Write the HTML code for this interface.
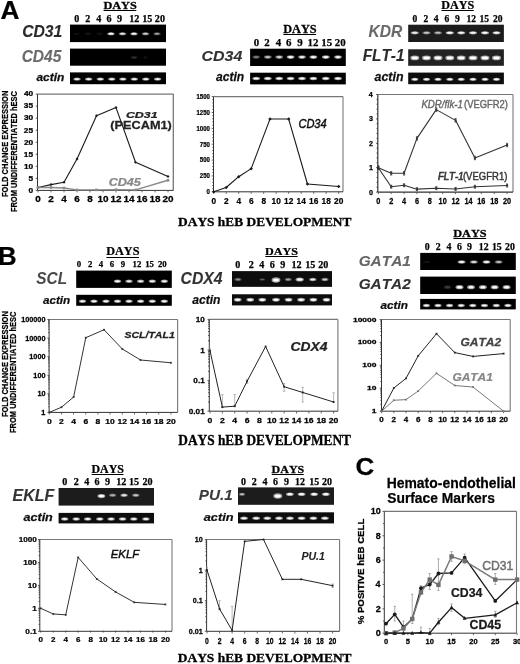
<!DOCTYPE html>
<html><head><meta charset="utf-8"><style>
html,body{margin:0;padding:0;background:#fff;width:520px;height:664px;overflow:hidden}
svg{display:block;font-kerning:none}
</style></head><body>
<svg width="520" height="664" viewBox="0 0 520 664">
<defs><filter id="bl" x="-50%" y="-100%" width="200%" height="300%"><feGaussianBlur stdDeviation="0.45"/></filter><filter id="gb" x="0" y="0" width="520" height="664" filterUnits="userSpaceOnUse"><feGaussianBlur stdDeviation="0.35"/></filter></defs>
<rect width="520" height="664" fill="#fff"/>
<g filter="url(#gb)">
<text transform="translate(0.55,18.50) scale(1.035,1)" font-family="Liberation Sans" font-weight="bold" font-style="normal" font-size="25.36" fill="#000" stroke="#000" stroke-width="0.25">A</text>
<text transform="translate(103.38,9.00) scale(1.084,1)" font-family="Liberation Serif" font-weight="bold" font-style="normal" font-size="11.33" fill="#000" stroke="#000" stroke-width="0.25">DAYS</text>
<line x1="103.60" y1="10.50" x2="136.30" y2="10.50" stroke="#000" stroke-width="1.1"/>
<text transform="translate(74.17,22.10) scale(1.000,1)" font-family="Liberation Serif" font-weight="bold" font-style="normal" font-size="10.12" fill="#000" stroke="#000" stroke-width="0.25">0</text>
<text transform="translate(85.27,22.10) scale(1.000,1)" font-family="Liberation Serif" font-weight="bold" font-style="normal" font-size="10.12" fill="#000" stroke="#000" stroke-width="0.25">2</text>
<text transform="translate(96.27,22.10) scale(1.000,1)" font-family="Liberation Serif" font-weight="bold" font-style="normal" font-size="10.12" fill="#000" stroke="#000" stroke-width="0.25">4</text>
<text transform="translate(106.47,22.10) scale(1.000,1)" font-family="Liberation Serif" font-weight="bold" font-style="normal" font-size="10.12" fill="#000" stroke="#000" stroke-width="0.25">6</text>
<text transform="translate(116.97,22.10) scale(1.000,1)" font-family="Liberation Serif" font-weight="bold" font-style="normal" font-size="10.12" fill="#000" stroke="#000" stroke-width="0.25">9</text>
<text transform="translate(129.24,22.10) scale(1.000,1)" font-family="Liberation Serif" font-weight="bold" font-style="normal" font-size="10.12" fill="#000" stroke="#000" stroke-width="0.25">12</text>
<text transform="translate(142.14,22.10) scale(1.000,1)" font-family="Liberation Serif" font-weight="bold" font-style="normal" font-size="10.12" fill="#000" stroke="#000" stroke-width="0.25">15</text>
<text transform="translate(154.84,22.10) scale(1.000,1)" font-family="Liberation Serif" font-weight="bold" font-style="normal" font-size="10.12" fill="#000" stroke="#000" stroke-width="0.25">20</text>
<rect x="70.00" y="24.60" width="96.00" height="17.50" fill="#000"/>
<ellipse cx="76.50" cy="33.80" rx="3.68" ry="1.56" fill="rgba(255,255,255,0.02)" filter="url(#bl)"/>
<ellipse cx="76.50" cy="33.80" rx="2.50" ry="0.94" fill="rgba(255,255,255,0.04)" filter="url(#bl)"/>
<ellipse cx="88.00" cy="33.80" rx="3.68" ry="1.56" fill="rgba(255,255,255,0.03)" filter="url(#bl)"/>
<ellipse cx="88.00" cy="33.80" rx="2.50" ry="0.94" fill="rgba(255,255,255,0.05)" filter="url(#bl)"/>
<ellipse cx="99.50" cy="33.80" rx="3.68" ry="1.56" fill="rgba(255,255,255,0.03)" filter="url(#bl)"/>
<ellipse cx="99.50" cy="33.80" rx="2.50" ry="0.94" fill="rgba(255,255,255,0.05)" filter="url(#bl)"/>
<ellipse cx="111.00" cy="33.80" rx="3.68" ry="1.56" fill="rgba(255,255,255,0.57)" filter="url(#bl)"/>
<ellipse cx="111.00" cy="33.80" rx="2.50" ry="0.94" fill="rgba(255,255,255,0.95)" filter="url(#bl)"/>
<ellipse cx="122.50" cy="33.80" rx="3.68" ry="1.56" fill="rgba(255,255,255,0.48)" filter="url(#bl)"/>
<ellipse cx="122.50" cy="33.80" rx="2.50" ry="0.94" fill="rgba(255,255,255,0.80)" filter="url(#bl)"/>
<ellipse cx="134.00" cy="33.80" rx="3.68" ry="1.56" fill="rgba(255,255,255,0.54)" filter="url(#bl)"/>
<ellipse cx="134.00" cy="33.80" rx="2.50" ry="0.94" fill="rgba(255,255,255,0.90)" filter="url(#bl)"/>
<ellipse cx="145.50" cy="33.80" rx="3.68" ry="1.56" fill="rgba(255,255,255,0.39)" filter="url(#bl)"/>
<ellipse cx="145.50" cy="33.80" rx="2.50" ry="0.94" fill="rgba(255,255,255,0.65)" filter="url(#bl)"/>
<ellipse cx="157.00" cy="33.80" rx="3.68" ry="1.56" fill="rgba(255,255,255,0.27)" filter="url(#bl)"/>
<ellipse cx="157.00" cy="33.80" rx="2.50" ry="0.94" fill="rgba(255,255,255,0.45)" filter="url(#bl)"/>
<rect x="70.00" y="48.60" width="96.00" height="17.10" fill="#000"/>
<ellipse cx="134.00" cy="57.50" rx="3.68" ry="1.69" fill="rgba(255,255,255,0.07)" filter="url(#bl)"/>
<ellipse cx="134.00" cy="57.50" rx="2.50" ry="1.01" fill="rgba(255,255,255,0.12)" filter="url(#bl)"/>
<ellipse cx="145.50" cy="57.50" rx="3.68" ry="1.69" fill="rgba(255,255,255,0.02)" filter="url(#bl)"/>
<ellipse cx="145.50" cy="57.50" rx="2.50" ry="1.01" fill="rgba(255,255,255,0.04)" filter="url(#bl)"/>
<rect x="70.00" y="72.40" width="96.00" height="11.80" fill="#000"/>
<ellipse cx="77.00" cy="79.10" rx="3.68" ry="1.56" fill="rgba(255,255,255,0.57)" filter="url(#bl)"/>
<ellipse cx="77.00" cy="79.10" rx="2.50" ry="0.94" fill="rgba(255,255,255,0.95)" filter="url(#bl)"/>
<ellipse cx="88.70" cy="79.10" rx="3.68" ry="1.56" fill="rgba(255,255,255,0.57)" filter="url(#bl)"/>
<ellipse cx="88.70" cy="79.10" rx="2.50" ry="0.94" fill="rgba(255,255,255,0.95)" filter="url(#bl)"/>
<ellipse cx="100.30" cy="79.10" rx="3.68" ry="1.56" fill="rgba(255,255,255,0.57)" filter="url(#bl)"/>
<ellipse cx="100.30" cy="79.10" rx="2.50" ry="0.94" fill="rgba(255,255,255,0.95)" filter="url(#bl)"/>
<ellipse cx="111.80" cy="79.10" rx="3.68" ry="1.56" fill="rgba(255,255,255,0.57)" filter="url(#bl)"/>
<ellipse cx="111.80" cy="79.10" rx="2.50" ry="0.94" fill="rgba(255,255,255,0.95)" filter="url(#bl)"/>
<ellipse cx="122.90" cy="79.10" rx="3.68" ry="1.56" fill="rgba(255,255,255,0.57)" filter="url(#bl)"/>
<ellipse cx="122.90" cy="79.10" rx="2.50" ry="0.94" fill="rgba(255,255,255,0.95)" filter="url(#bl)"/>
<ellipse cx="134.30" cy="79.10" rx="3.68" ry="1.56" fill="rgba(255,255,255,0.57)" filter="url(#bl)"/>
<ellipse cx="134.30" cy="79.10" rx="2.50" ry="0.94" fill="rgba(255,255,255,0.95)" filter="url(#bl)"/>
<ellipse cx="145.80" cy="79.10" rx="3.68" ry="1.56" fill="rgba(255,255,255,0.57)" filter="url(#bl)"/>
<ellipse cx="145.80" cy="79.10" rx="2.50" ry="0.94" fill="rgba(255,255,255,0.95)" filter="url(#bl)"/>
<ellipse cx="157.60" cy="79.10" rx="3.68" ry="1.56" fill="rgba(255,255,255,0.57)" filter="url(#bl)"/>
<ellipse cx="157.60" cy="79.10" rx="2.50" ry="0.94" fill="rgba(255,255,255,0.95)" filter="url(#bl)"/>
<text transform="translate(22.13,36.90) scale(0.980,1)" font-family="Liberation Sans" font-weight="bold" font-style="italic" font-size="16.05" fill="#2a2a2a" stroke="#2a2a2a" stroke-width="0.1">CD31</text>
<text transform="translate(21.64,61.50) scale(0.994,1)" font-family="Liberation Sans" font-weight="bold" font-style="italic" font-size="15.62" fill="#6a6a6a" stroke="#6a6a6a" stroke-width="0.1">CD45</text>
<text transform="translate(36.44,81.10) scale(1.185,1)" font-family="Liberation Sans" font-weight="bold" font-style="italic" font-size="10.08" fill="#111" stroke="#111" stroke-width="0.25">actin</text>
<text transform="translate(283.18,33.20) scale(1.004,1)" font-family="Liberation Serif" font-weight="bold" font-style="normal" font-size="12.24" fill="#000" stroke="#000" stroke-width="0.25">DAYS</text>
<line x1="283.40" y1="34.50" x2="316.10" y2="34.50" stroke="#000" stroke-width="1.1"/>
<text transform="translate(253.68,46.00) scale(1.000,1)" font-family="Liberation Serif" font-weight="bold" font-style="normal" font-size="10.88" fill="#000" stroke="#000" stroke-width="0.25">0</text>
<text transform="translate(264.18,46.00) scale(1.000,1)" font-family="Liberation Serif" font-weight="bold" font-style="normal" font-size="10.88" fill="#000" stroke="#000" stroke-width="0.25">2</text>
<text transform="translate(275.78,46.00) scale(1.000,1)" font-family="Liberation Serif" font-weight="bold" font-style="normal" font-size="10.88" fill="#000" stroke="#000" stroke-width="0.25">4</text>
<text transform="translate(285.98,46.00) scale(1.000,1)" font-family="Liberation Serif" font-weight="bold" font-style="normal" font-size="10.88" fill="#000" stroke="#000" stroke-width="0.25">6</text>
<text transform="translate(297.18,46.00) scale(1.000,1)" font-family="Liberation Serif" font-weight="bold" font-style="normal" font-size="10.88" fill="#000" stroke="#000" stroke-width="0.25">9</text>
<text transform="translate(307.56,46.00) scale(1.000,1)" font-family="Liberation Serif" font-weight="bold" font-style="normal" font-size="10.88" fill="#000" stroke="#000" stroke-width="0.25">12</text>
<text transform="translate(321.36,46.00) scale(1.000,1)" font-family="Liberation Serif" font-weight="bold" font-style="normal" font-size="10.88" fill="#000" stroke="#000" stroke-width="0.25">15</text>
<text transform="translate(334.76,46.00) scale(1.000,1)" font-family="Liberation Serif" font-weight="bold" font-style="normal" font-size="10.88" fill="#000" stroke="#000" stroke-width="0.25">20</text>
<rect x="250.10" y="48.70" width="95.70" height="17.30" fill="#000"/>
<ellipse cx="256.20" cy="57.10" rx="3.94" ry="1.82" fill="rgba(255,255,255,0.21)" filter="url(#bl)"/>
<ellipse cx="256.20" cy="57.10" rx="2.68" ry="1.09" fill="rgba(255,255,255,0.35)" filter="url(#bl)"/>
<ellipse cx="267.80" cy="57.10" rx="3.94" ry="1.82" fill="rgba(255,255,255,0.36)" filter="url(#bl)"/>
<ellipse cx="267.80" cy="57.10" rx="2.68" ry="1.09" fill="rgba(255,255,255,0.60)" filter="url(#bl)"/>
<ellipse cx="279.20" cy="57.10" rx="3.94" ry="1.82" fill="rgba(255,255,255,0.42)" filter="url(#bl)"/>
<ellipse cx="279.20" cy="57.10" rx="2.68" ry="1.09" fill="rgba(255,255,255,0.70)" filter="url(#bl)"/>
<ellipse cx="290.60" cy="57.10" rx="3.94" ry="1.82" fill="rgba(255,255,255,0.57)" filter="url(#bl)"/>
<ellipse cx="290.60" cy="57.10" rx="2.68" ry="1.09" fill="rgba(255,255,255,0.95)" filter="url(#bl)"/>
<ellipse cx="302.00" cy="57.10" rx="3.94" ry="1.82" fill="rgba(255,255,255,0.51)" filter="url(#bl)"/>
<ellipse cx="302.00" cy="57.10" rx="2.68" ry="1.09" fill="rgba(255,255,255,0.85)" filter="url(#bl)"/>
<ellipse cx="313.40" cy="57.10" rx="3.94" ry="1.82" fill="rgba(255,255,255,0.57)" filter="url(#bl)"/>
<ellipse cx="313.40" cy="57.10" rx="2.68" ry="1.09" fill="rgba(255,255,255,0.95)" filter="url(#bl)"/>
<ellipse cx="325.80" cy="57.10" rx="3.94" ry="1.82" fill="rgba(255,255,255,0.57)" filter="url(#bl)"/>
<ellipse cx="325.80" cy="57.10" rx="2.68" ry="1.09" fill="rgba(255,255,255,0.95)" filter="url(#bl)"/>
<ellipse cx="338.00" cy="57.10" rx="3.94" ry="1.82" fill="rgba(255,255,255,0.54)" filter="url(#bl)"/>
<ellipse cx="338.00" cy="57.10" rx="2.68" ry="1.09" fill="rgba(255,255,255,0.90)" filter="url(#bl)"/>
<rect x="250.10" y="72.70" width="95.70" height="11.70" fill="#000"/>
<ellipse cx="256.20" cy="78.50" rx="3.94" ry="1.69" fill="rgba(255,255,255,0.57)" filter="url(#bl)"/>
<ellipse cx="256.20" cy="78.50" rx="2.68" ry="1.01" fill="rgba(255,255,255,0.95)" filter="url(#bl)"/>
<ellipse cx="267.80" cy="78.50" rx="3.94" ry="1.69" fill="rgba(255,255,255,0.57)" filter="url(#bl)"/>
<ellipse cx="267.80" cy="78.50" rx="2.68" ry="1.01" fill="rgba(255,255,255,0.95)" filter="url(#bl)"/>
<ellipse cx="279.20" cy="78.50" rx="3.94" ry="1.69" fill="rgba(255,255,255,0.57)" filter="url(#bl)"/>
<ellipse cx="279.20" cy="78.50" rx="2.68" ry="1.01" fill="rgba(255,255,255,0.95)" filter="url(#bl)"/>
<ellipse cx="290.60" cy="78.50" rx="3.94" ry="1.69" fill="rgba(255,255,255,0.57)" filter="url(#bl)"/>
<ellipse cx="290.60" cy="78.50" rx="2.68" ry="1.01" fill="rgba(255,255,255,0.95)" filter="url(#bl)"/>
<ellipse cx="302.00" cy="78.50" rx="3.94" ry="1.69" fill="rgba(255,255,255,0.57)" filter="url(#bl)"/>
<ellipse cx="302.00" cy="78.50" rx="2.68" ry="1.01" fill="rgba(255,255,255,0.95)" filter="url(#bl)"/>
<ellipse cx="313.40" cy="78.50" rx="3.94" ry="1.69" fill="rgba(255,255,255,0.57)" filter="url(#bl)"/>
<ellipse cx="313.40" cy="78.50" rx="2.68" ry="1.01" fill="rgba(255,255,255,0.95)" filter="url(#bl)"/>
<ellipse cx="325.80" cy="78.50" rx="3.94" ry="1.69" fill="rgba(255,255,255,0.57)" filter="url(#bl)"/>
<ellipse cx="325.80" cy="78.50" rx="2.68" ry="1.01" fill="rgba(255,255,255,0.95)" filter="url(#bl)"/>
<ellipse cx="338.00" cy="78.50" rx="3.94" ry="1.69" fill="rgba(255,255,255,0.57)" filter="url(#bl)"/>
<ellipse cx="338.00" cy="78.50" rx="2.68" ry="1.01" fill="rgba(255,255,255,0.95)" filter="url(#bl)"/>
<text transform="translate(201.62,60.80) scale(1.030,1)" font-family="Liberation Sans" font-weight="bold" font-style="italic" font-size="15.47" fill="#333" stroke="#333" stroke-width="0.1">CD34</text>
<text transform="translate(215.94,81.17) scale(0.926,1)" font-family="Liberation Sans" font-weight="bold" font-style="italic" font-size="13.07" fill="#111" stroke="#111" stroke-width="0.25">actin</text>
<text transform="translate(441.29,9.20) scale(1.043,1)" font-family="Liberation Serif" font-weight="bold" font-style="normal" font-size="11.63" fill="#000" stroke="#000" stroke-width="0.25">DAYS</text>
<line x1="441.50" y1="10.50" x2="473.80" y2="10.50" stroke="#000" stroke-width="1.1"/>
<text transform="translate(412.62,22.10) scale(1.000,1)" font-family="Liberation Serif" font-weight="bold" font-style="normal" font-size="9.52" fill="#000" stroke="#000" stroke-width="0.25">0</text>
<text transform="translate(423.42,22.10) scale(1.000,1)" font-family="Liberation Serif" font-weight="bold" font-style="normal" font-size="9.52" fill="#000" stroke="#000" stroke-width="0.25">2</text>
<text transform="translate(433.82,22.10) scale(1.000,1)" font-family="Liberation Serif" font-weight="bold" font-style="normal" font-size="9.52" fill="#000" stroke="#000" stroke-width="0.25">4</text>
<text transform="translate(444.52,22.10) scale(1.000,1)" font-family="Liberation Serif" font-weight="bold" font-style="normal" font-size="9.52" fill="#000" stroke="#000" stroke-width="0.25">6</text>
<text transform="translate(454.92,22.10) scale(1.000,1)" font-family="Liberation Serif" font-weight="bold" font-style="normal" font-size="9.52" fill="#000" stroke="#000" stroke-width="0.25">9</text>
<text transform="translate(466.54,22.10) scale(1.000,1)" font-family="Liberation Serif" font-weight="bold" font-style="normal" font-size="9.52" fill="#000" stroke="#000" stroke-width="0.25">12</text>
<text transform="translate(479.44,22.10) scale(1.000,1)" font-family="Liberation Serif" font-weight="bold" font-style="normal" font-size="9.52" fill="#000" stroke="#000" stroke-width="0.25">15</text>
<text transform="translate(492.94,22.10) scale(1.000,1)" font-family="Liberation Serif" font-weight="bold" font-style="normal" font-size="9.52" fill="#000" stroke="#000" stroke-width="0.25">20</text>
<rect x="408.20" y="24.70" width="95.70" height="17.30" fill="#1c1c1c"/>
<ellipse cx="414.80" cy="32.80" rx="4.09" ry="1.62" fill="rgba(255,255,255,0.51)" filter="url(#bl)"/>
<ellipse cx="414.80" cy="32.80" rx="2.78" ry="0.97" fill="rgba(255,255,255,0.85)" filter="url(#bl)"/>
<ellipse cx="426.50" cy="32.80" rx="4.09" ry="1.62" fill="rgba(255,255,255,0.36)" filter="url(#bl)"/>
<ellipse cx="426.50" cy="32.80" rx="2.78" ry="0.97" fill="rgba(255,255,255,0.60)" filter="url(#bl)"/>
<ellipse cx="438.00" cy="32.80" rx="4.09" ry="1.62" fill="rgba(255,255,255,0.33)" filter="url(#bl)"/>
<ellipse cx="438.00" cy="32.80" rx="2.78" ry="0.97" fill="rgba(255,255,255,0.55)" filter="url(#bl)"/>
<ellipse cx="449.80" cy="32.80" rx="4.09" ry="1.62" fill="rgba(255,255,255,0.60)" filter="url(#bl)"/>
<ellipse cx="449.80" cy="32.80" rx="2.78" ry="0.97" fill="rgba(255,255,255,1.00)" filter="url(#bl)"/>
<ellipse cx="461.20" cy="32.80" rx="4.09" ry="1.62" fill="rgba(255,255,255,0.57)" filter="url(#bl)"/>
<ellipse cx="461.20" cy="32.80" rx="2.78" ry="0.97" fill="rgba(255,255,255,0.95)" filter="url(#bl)"/>
<ellipse cx="473.00" cy="32.80" rx="4.09" ry="1.62" fill="rgba(255,255,255,0.57)" filter="url(#bl)"/>
<ellipse cx="473.00" cy="32.80" rx="2.78" ry="0.97" fill="rgba(255,255,255,0.95)" filter="url(#bl)"/>
<ellipse cx="485.00" cy="32.80" rx="4.09" ry="1.62" fill="rgba(255,255,255,0.60)" filter="url(#bl)"/>
<ellipse cx="485.00" cy="32.80" rx="2.78" ry="0.97" fill="rgba(255,255,255,1.00)" filter="url(#bl)"/>
<ellipse cx="496.50" cy="32.80" rx="4.09" ry="1.62" fill="rgba(255,255,255,0.57)" filter="url(#bl)"/>
<ellipse cx="496.50" cy="32.80" rx="2.78" ry="0.97" fill="rgba(255,255,255,0.95)" filter="url(#bl)"/>
<rect x="408.20" y="49.30" width="95.70" height="16.50" fill="#222"/>
<ellipse cx="414.80" cy="57.90" rx="4.51" ry="2.34" fill="rgba(255,255,255,0.60)" filter="url(#bl)"/>
<ellipse cx="414.80" cy="57.90" rx="3.07" ry="1.40" fill="rgba(255,255,255,1.00)" filter="url(#bl)"/>
<ellipse cx="426.50" cy="57.90" rx="4.51" ry="2.34" fill="rgba(255,255,255,0.60)" filter="url(#bl)"/>
<ellipse cx="426.50" cy="57.90" rx="3.07" ry="1.40" fill="rgba(255,255,255,1.00)" filter="url(#bl)"/>
<ellipse cx="438.00" cy="57.90" rx="4.51" ry="2.34" fill="rgba(255,255,255,0.60)" filter="url(#bl)"/>
<ellipse cx="438.00" cy="57.90" rx="3.07" ry="1.40" fill="rgba(255,255,255,1.00)" filter="url(#bl)"/>
<ellipse cx="449.80" cy="57.90" rx="4.51" ry="2.34" fill="rgba(255,255,255,0.60)" filter="url(#bl)"/>
<ellipse cx="449.80" cy="57.90" rx="3.07" ry="1.40" fill="rgba(255,255,255,1.00)" filter="url(#bl)"/>
<ellipse cx="461.20" cy="57.90" rx="4.51" ry="2.34" fill="rgba(255,255,255,0.60)" filter="url(#bl)"/>
<ellipse cx="461.20" cy="57.90" rx="3.07" ry="1.40" fill="rgba(255,255,255,1.00)" filter="url(#bl)"/>
<ellipse cx="473.00" cy="57.90" rx="4.51" ry="2.34" fill="rgba(255,255,255,0.60)" filter="url(#bl)"/>
<ellipse cx="473.00" cy="57.90" rx="3.07" ry="1.40" fill="rgba(255,255,255,1.00)" filter="url(#bl)"/>
<ellipse cx="485.00" cy="57.90" rx="4.51" ry="2.34" fill="rgba(255,255,255,0.60)" filter="url(#bl)"/>
<ellipse cx="485.00" cy="57.90" rx="3.07" ry="1.40" fill="rgba(255,255,255,1.00)" filter="url(#bl)"/>
<ellipse cx="496.50" cy="57.90" rx="4.51" ry="2.34" fill="rgba(255,255,255,0.60)" filter="url(#bl)"/>
<ellipse cx="496.50" cy="57.90" rx="3.07" ry="1.40" fill="rgba(255,255,255,1.00)" filter="url(#bl)"/>
<rect x="408.20" y="72.60" width="95.70" height="11.60" fill="#0a0a0a"/>
<ellipse cx="414.80" cy="79.30" rx="3.68" ry="1.62" fill="rgba(255,255,255,0.55)" filter="url(#bl)"/>
<ellipse cx="414.80" cy="79.30" rx="2.50" ry="0.97" fill="rgba(255,255,255,0.92)" filter="url(#bl)"/>
<ellipse cx="426.50" cy="79.30" rx="3.68" ry="1.62" fill="rgba(255,255,255,0.55)" filter="url(#bl)"/>
<ellipse cx="426.50" cy="79.30" rx="2.50" ry="0.97" fill="rgba(255,255,255,0.92)" filter="url(#bl)"/>
<ellipse cx="438.00" cy="79.30" rx="3.68" ry="1.62" fill="rgba(255,255,255,0.55)" filter="url(#bl)"/>
<ellipse cx="438.00" cy="79.30" rx="2.50" ry="0.97" fill="rgba(255,255,255,0.92)" filter="url(#bl)"/>
<ellipse cx="449.80" cy="79.30" rx="3.68" ry="1.62" fill="rgba(255,255,255,0.55)" filter="url(#bl)"/>
<ellipse cx="449.80" cy="79.30" rx="2.50" ry="0.97" fill="rgba(255,255,255,0.92)" filter="url(#bl)"/>
<ellipse cx="461.20" cy="79.30" rx="3.68" ry="1.62" fill="rgba(255,255,255,0.55)" filter="url(#bl)"/>
<ellipse cx="461.20" cy="79.30" rx="2.50" ry="0.97" fill="rgba(255,255,255,0.92)" filter="url(#bl)"/>
<ellipse cx="473.00" cy="79.30" rx="3.68" ry="1.62" fill="rgba(255,255,255,0.55)" filter="url(#bl)"/>
<ellipse cx="473.00" cy="79.30" rx="2.50" ry="0.97" fill="rgba(255,255,255,0.92)" filter="url(#bl)"/>
<ellipse cx="485.00" cy="79.30" rx="3.68" ry="1.62" fill="rgba(255,255,255,0.55)" filter="url(#bl)"/>
<ellipse cx="485.00" cy="79.30" rx="2.50" ry="0.97" fill="rgba(255,255,255,0.92)" filter="url(#bl)"/>
<ellipse cx="496.50" cy="79.30" rx="3.68" ry="1.62" fill="rgba(255,255,255,0.55)" filter="url(#bl)"/>
<ellipse cx="496.50" cy="79.30" rx="2.50" ry="0.97" fill="rgba(255,255,255,0.92)" filter="url(#bl)"/>
<text transform="translate(368.43,36.90) scale(0.989,1)" font-family="Liberation Sans" font-weight="bold" font-style="italic" font-size="15.76" fill="#6a6a6a" stroke="#6a6a6a" stroke-width="0.1">KDR</text>
<text transform="translate(362.63,61.00) scale(0.986,1)" font-family="Liberation Sans" font-weight="bold" font-style="italic" font-size="15.62" fill="#2a2a2a" stroke="#2a2a2a" stroke-width="0.1">FLT-1</text>
<text transform="translate(374.54,81.17) scale(0.950,1)" font-family="Liberation Sans" font-weight="bold" font-style="italic" font-size="13.07" fill="#111" stroke="#111" stroke-width="0.25">actin</text>
<line x1="37.50" y1="94.10" x2="173.30" y2="94.10" stroke="#777" stroke-width="1.3"/>
<line x1="173.30" y1="94.10" x2="173.30" y2="190.40" stroke="#777" stroke-width="1.3"/>
<line x1="37.50" y1="190.40" x2="173.30" y2="190.40" stroke="#333" stroke-width="1.0"/>
<line x1="37.50" y1="94.10" x2="37.50" y2="190.40" stroke="#333" stroke-width="1.0"/>
<text transform="translate(28.54,192.70) scale(1.255,1)" font-family="Liberation Sans" font-weight="bold" font-style="normal" font-size="6.59" fill="#000" stroke="#000" stroke-width="0.25">0</text>
<line x1="35.70" y1="190.40" x2="37.50" y2="190.40" stroke="#333" stroke-width="0.8"/>
<text transform="translate(28.43,180.66) scale(1.255,1)" font-family="Liberation Sans" font-weight="bold" font-style="normal" font-size="6.59" fill="#000" stroke="#000" stroke-width="0.25">5</text>
<line x1="35.70" y1="178.36" x2="37.50" y2="178.36" stroke="#333" stroke-width="0.8"/>
<text transform="translate(23.94,168.62) scale(1.255,1)" font-family="Liberation Sans" font-weight="bold" font-style="normal" font-size="6.59" fill="#000" stroke="#000" stroke-width="0.25">10</text>
<line x1="35.70" y1="166.32" x2="37.50" y2="166.32" stroke="#333" stroke-width="0.8"/>
<text transform="translate(23.83,156.58) scale(1.255,1)" font-family="Liberation Sans" font-weight="bold" font-style="normal" font-size="6.59" fill="#000" stroke="#000" stroke-width="0.25">15</text>
<line x1="35.70" y1="154.28" x2="37.50" y2="154.28" stroke="#333" stroke-width="0.8"/>
<text transform="translate(23.94,144.54) scale(1.255,1)" font-family="Liberation Sans" font-weight="bold" font-style="normal" font-size="6.59" fill="#000" stroke="#000" stroke-width="0.25">20</text>
<line x1="35.70" y1="142.24" x2="37.50" y2="142.24" stroke="#333" stroke-width="0.8"/>
<text transform="translate(23.83,132.50) scale(1.255,1)" font-family="Liberation Sans" font-weight="bold" font-style="normal" font-size="6.59" fill="#000" stroke="#000" stroke-width="0.25">25</text>
<line x1="35.70" y1="130.20" x2="37.50" y2="130.20" stroke="#333" stroke-width="0.8"/>
<text transform="translate(23.94,120.46) scale(1.255,1)" font-family="Liberation Sans" font-weight="bold" font-style="normal" font-size="6.59" fill="#000" stroke="#000" stroke-width="0.25">30</text>
<line x1="35.70" y1="118.16" x2="37.50" y2="118.16" stroke="#333" stroke-width="0.8"/>
<text transform="translate(23.83,108.42) scale(1.255,1)" font-family="Liberation Sans" font-weight="bold" font-style="normal" font-size="6.59" fill="#000" stroke="#000" stroke-width="0.25">35</text>
<line x1="35.70" y1="106.12" x2="37.50" y2="106.12" stroke="#333" stroke-width="0.8"/>
<text transform="translate(23.94,96.38) scale(1.255,1)" font-family="Liberation Sans" font-weight="bold" font-style="normal" font-size="6.59" fill="#000" stroke="#000" stroke-width="0.25">40</text>
<line x1="35.70" y1="94.08" x2="37.50" y2="94.08" stroke="#333" stroke-width="0.8"/>
<text transform="translate(35.24,202.30) scale(1.214,1)" font-family="Liberation Sans" font-weight="bold" font-style="normal" font-size="8.17" fill="#000" stroke="#000" stroke-width="0.25">0</text>
<line x1="38.00" y1="190.40" x2="38.00" y2="192.40" stroke="#444" stroke-width="0.8"/>
<text transform="translate(48.24,202.30) scale(1.214,1)" font-family="Liberation Sans" font-weight="bold" font-style="normal" font-size="8.17" fill="#000" stroke="#000" stroke-width="0.25">2</text>
<line x1="51.00" y1="190.40" x2="51.00" y2="192.40" stroke="#444" stroke-width="0.8"/>
<text transform="translate(61.24,202.30) scale(1.214,1)" font-family="Liberation Sans" font-weight="bold" font-style="normal" font-size="8.17" fill="#000" stroke="#000" stroke-width="0.25">4</text>
<line x1="64.00" y1="190.40" x2="64.00" y2="192.40" stroke="#444" stroke-width="0.8"/>
<text transform="translate(74.24,202.30) scale(1.214,1)" font-family="Liberation Sans" font-weight="bold" font-style="normal" font-size="8.17" fill="#000" stroke="#000" stroke-width="0.25">6</text>
<line x1="77.00" y1="190.40" x2="77.00" y2="192.40" stroke="#444" stroke-width="0.8"/>
<text transform="translate(87.24,202.30) scale(1.214,1)" font-family="Liberation Sans" font-weight="bold" font-style="normal" font-size="8.17" fill="#000" stroke="#000" stroke-width="0.25">8</text>
<line x1="90.00" y1="190.40" x2="90.00" y2="192.40" stroke="#444" stroke-width="0.8"/>
<text transform="translate(97.48,202.30) scale(1.214,1)" font-family="Liberation Sans" font-weight="bold" font-style="normal" font-size="8.17" fill="#000" stroke="#000" stroke-width="0.25">10</text>
<line x1="103.00" y1="190.40" x2="103.00" y2="192.40" stroke="#444" stroke-width="0.8"/>
<text transform="translate(110.48,202.30) scale(1.214,1)" font-family="Liberation Sans" font-weight="bold" font-style="normal" font-size="8.17" fill="#000" stroke="#000" stroke-width="0.25">12</text>
<line x1="116.00" y1="190.40" x2="116.00" y2="192.40" stroke="#444" stroke-width="0.8"/>
<text transform="translate(123.48,202.30) scale(1.214,1)" font-family="Liberation Sans" font-weight="bold" font-style="normal" font-size="8.17" fill="#000" stroke="#000" stroke-width="0.25">14</text>
<line x1="129.00" y1="190.40" x2="129.00" y2="192.40" stroke="#444" stroke-width="0.8"/>
<text transform="translate(136.48,202.30) scale(1.214,1)" font-family="Liberation Sans" font-weight="bold" font-style="normal" font-size="8.17" fill="#000" stroke="#000" stroke-width="0.25">16</text>
<line x1="142.00" y1="190.40" x2="142.00" y2="192.40" stroke="#444" stroke-width="0.8"/>
<text transform="translate(149.48,202.30) scale(1.214,1)" font-family="Liberation Sans" font-weight="bold" font-style="normal" font-size="8.17" fill="#000" stroke="#000" stroke-width="0.25">18</text>
<line x1="155.00" y1="190.40" x2="155.00" y2="192.40" stroke="#444" stroke-width="0.8"/>
<text transform="translate(162.48,202.30) scale(1.214,1)" font-family="Liberation Sans" font-weight="bold" font-style="normal" font-size="8.17" fill="#000" stroke="#000" stroke-width="0.25">20</text>
<line x1="168.00" y1="190.40" x2="168.00" y2="192.40" stroke="#444" stroke-width="0.8"/>
<polyline points="38.00,187.51 51.00,184.62 64.00,182.21 77.00,159.10 96.50,115.75 116.00,107.56 135.50,162.23 168.00,176.43" fill="none" stroke="#1a1a1a" stroke-width="1.1" stroke-linejoin="round"/>
<polygon points="38.00,186.01 39.50,187.51 38.00,189.01 36.50,187.51" fill="#1a1a1a"/>
<polygon points="51.00,183.12 52.50,184.62 51.00,186.12 49.50,184.62" fill="#1a1a1a"/>
<polygon points="64.00,180.71 65.50,182.21 64.00,183.71 62.50,182.21" fill="#1a1a1a"/>
<polygon points="77.00,157.60 78.50,159.10 77.00,160.60 75.50,159.10" fill="#1a1a1a"/>
<polygon points="96.50,114.25 98.00,115.75 96.50,117.25 95.00,115.75" fill="#1a1a1a"/>
<polygon points="116.00,106.06 117.50,107.56 116.00,109.06 114.50,107.56" fill="#1a1a1a"/>
<polygon points="135.50,160.73 137.00,162.23 135.50,163.73 134.00,162.23" fill="#1a1a1a"/>
<polygon points="168.00,174.93 169.50,176.43 168.00,177.93 166.50,176.43" fill="#1a1a1a"/>
<polyline points="38.00,187.51 51.00,187.51 64.00,187.99 77.00,189.92 96.50,189.92 116.00,189.68 135.50,189.92 168.00,180.29" fill="none" stroke="#8a8a8a" stroke-width="1.4" stroke-linejoin="round"/>
<rect x="36.70" y="186.21" width="2.60" height="2.60" fill="#8a8a8a"/>
<rect x="49.70" y="186.21" width="2.60" height="2.60" fill="#8a8a8a"/>
<rect x="62.70" y="186.69" width="2.60" height="2.60" fill="#8a8a8a"/>
<rect x="75.70" y="188.62" width="2.60" height="2.60" fill="#8a8a8a"/>
<rect x="95.20" y="188.62" width="2.60" height="2.60" fill="#8a8a8a"/>
<rect x="114.70" y="188.38" width="2.60" height="2.60" fill="#8a8a8a"/>
<rect x="134.20" y="188.62" width="2.60" height="2.60" fill="#8a8a8a"/>
<rect x="166.70" y="178.99" width="2.60" height="2.60" fill="#8a8a8a"/>
<text transform="translate(125.89,117.50) scale(1.295,1)" font-family="Liberation Sans" font-weight="bold" font-style="italic" font-size="9.60" fill="#222" stroke="#222" stroke-width="0.25">CD31</text>
<text transform="translate(110.37,129.30) scale(1.138,1)" font-family="Liberation Sans" font-weight="bold" font-style="normal" font-size="11.17" fill="#222" stroke="#222" stroke-width="0.25">(PECAM1)</text>
<text transform="translate(108.69,186.00) scale(1.098,1)" font-family="Liberation Sans" font-weight="bold" font-style="italic" font-size="11.46" fill="#888" stroke="#888" stroke-width="0.25">CD45</text>
<line x1="213.50" y1="96.60" x2="343.00" y2="96.60" stroke="#777" stroke-width="1.1"/>
<line x1="343.00" y1="96.60" x2="343.00" y2="191.80" stroke="#777" stroke-width="1.1"/>
<line x1="213.50" y1="191.80" x2="343.00" y2="191.80" stroke="#333" stroke-width="1.0"/>
<line x1="213.50" y1="96.60" x2="213.50" y2="191.80" stroke="#333" stroke-width="1.0"/>
<text transform="translate(206.50,194.15) scale(0.895,1)" font-family="Liberation Sans" font-weight="bold" font-style="normal" font-size="6.73" fill="#000" stroke="#000" stroke-width="0.25">0</text>
<line x1="211.70" y1="191.80" x2="213.50" y2="191.80" stroke="#333" stroke-width="0.8"/>
<text transform="translate(199.79,178.28) scale(0.895,1)" font-family="Liberation Sans" font-weight="bold" font-style="normal" font-size="6.73" fill="#000" stroke="#000" stroke-width="0.25">250</text>
<line x1="211.70" y1="175.93" x2="213.50" y2="175.93" stroke="#333" stroke-width="0.8"/>
<text transform="translate(199.79,162.42) scale(0.895,1)" font-family="Liberation Sans" font-weight="bold" font-style="normal" font-size="6.73" fill="#000" stroke="#000" stroke-width="0.25">500</text>
<line x1="211.70" y1="160.07" x2="213.50" y2="160.07" stroke="#333" stroke-width="0.8"/>
<text transform="translate(199.79,146.55) scale(0.895,1)" font-family="Liberation Sans" font-weight="bold" font-style="normal" font-size="6.73" fill="#000" stroke="#000" stroke-width="0.25">750</text>
<line x1="211.70" y1="144.20" x2="213.50" y2="144.20" stroke="#333" stroke-width="0.8"/>
<text transform="translate(196.44,130.68) scale(0.895,1)" font-family="Liberation Sans" font-weight="bold" font-style="normal" font-size="6.73" fill="#000" stroke="#000" stroke-width="0.25">1000</text>
<line x1="211.70" y1="128.33" x2="213.50" y2="128.33" stroke="#333" stroke-width="0.8"/>
<text transform="translate(196.44,114.82) scale(0.895,1)" font-family="Liberation Sans" font-weight="bold" font-style="normal" font-size="6.73" fill="#000" stroke="#000" stroke-width="0.25">1250</text>
<line x1="211.70" y1="112.47" x2="213.50" y2="112.47" stroke="#333" stroke-width="0.8"/>
<text transform="translate(196.44,98.95) scale(0.895,1)" font-family="Liberation Sans" font-weight="bold" font-style="normal" font-size="6.73" fill="#000" stroke="#000" stroke-width="0.25">1500</text>
<line x1="211.70" y1="96.60" x2="213.50" y2="96.60" stroke="#333" stroke-width="0.8"/>
<line x1="212.30" y1="188.63" x2="213.50" y2="188.63" stroke="#333" stroke-width="0.8"/>
<line x1="212.30" y1="185.45" x2="213.50" y2="185.45" stroke="#333" stroke-width="0.8"/>
<line x1="212.30" y1="182.28" x2="213.50" y2="182.28" stroke="#333" stroke-width="0.8"/>
<line x1="212.30" y1="179.11" x2="213.50" y2="179.11" stroke="#333" stroke-width="0.8"/>
<line x1="212.30" y1="172.76" x2="213.50" y2="172.76" stroke="#333" stroke-width="0.8"/>
<line x1="212.30" y1="169.59" x2="213.50" y2="169.59" stroke="#333" stroke-width="0.8"/>
<line x1="212.30" y1="166.41" x2="213.50" y2="166.41" stroke="#333" stroke-width="0.8"/>
<line x1="212.30" y1="163.24" x2="213.50" y2="163.24" stroke="#333" stroke-width="0.8"/>
<line x1="212.30" y1="156.89" x2="213.50" y2="156.89" stroke="#333" stroke-width="0.8"/>
<line x1="212.30" y1="153.72" x2="213.50" y2="153.72" stroke="#333" stroke-width="0.8"/>
<line x1="212.30" y1="150.55" x2="213.50" y2="150.55" stroke="#333" stroke-width="0.8"/>
<line x1="212.30" y1="147.37" x2="213.50" y2="147.37" stroke="#333" stroke-width="0.8"/>
<line x1="212.30" y1="141.03" x2="213.50" y2="141.03" stroke="#333" stroke-width="0.8"/>
<line x1="212.30" y1="137.85" x2="213.50" y2="137.85" stroke="#333" stroke-width="0.8"/>
<line x1="212.30" y1="134.68" x2="213.50" y2="134.68" stroke="#333" stroke-width="0.8"/>
<line x1="212.30" y1="131.51" x2="213.50" y2="131.51" stroke="#333" stroke-width="0.8"/>
<line x1="212.30" y1="125.16" x2="213.50" y2="125.16" stroke="#333" stroke-width="0.8"/>
<line x1="212.30" y1="121.99" x2="213.50" y2="121.99" stroke="#333" stroke-width="0.8"/>
<line x1="212.30" y1="118.81" x2="213.50" y2="118.81" stroke="#333" stroke-width="0.8"/>
<line x1="212.30" y1="115.64" x2="213.50" y2="115.64" stroke="#333" stroke-width="0.8"/>
<line x1="212.30" y1="109.29" x2="213.50" y2="109.29" stroke="#333" stroke-width="0.8"/>
<line x1="212.30" y1="106.12" x2="213.50" y2="106.12" stroke="#333" stroke-width="0.8"/>
<line x1="212.30" y1="102.95" x2="213.50" y2="102.95" stroke="#333" stroke-width="0.8"/>
<line x1="212.30" y1="99.77" x2="213.50" y2="99.77" stroke="#333" stroke-width="0.8"/>
<text transform="translate(211.38,204.40) scale(0.843,1)" font-family="Liberation Sans" font-weight="bold" font-style="normal" font-size="9.89" fill="#000" stroke="#000" stroke-width="0.25">0</text>
<line x1="213.70" y1="191.80" x2="213.70" y2="193.80" stroke="#444" stroke-width="0.8"/>
<text transform="translate(223.88,204.40) scale(0.843,1)" font-family="Liberation Sans" font-weight="bold" font-style="normal" font-size="9.89" fill="#000" stroke="#000" stroke-width="0.25">2</text>
<line x1="226.20" y1="191.80" x2="226.20" y2="193.80" stroke="#444" stroke-width="0.8"/>
<text transform="translate(236.38,204.40) scale(0.843,1)" font-family="Liberation Sans" font-weight="bold" font-style="normal" font-size="9.89" fill="#000" stroke="#000" stroke-width="0.25">4</text>
<line x1="238.70" y1="191.80" x2="238.70" y2="193.80" stroke="#444" stroke-width="0.8"/>
<text transform="translate(248.88,204.40) scale(0.843,1)" font-family="Liberation Sans" font-weight="bold" font-style="normal" font-size="9.89" fill="#000" stroke="#000" stroke-width="0.25">6</text>
<line x1="251.20" y1="191.80" x2="251.20" y2="193.80" stroke="#444" stroke-width="0.8"/>
<text transform="translate(261.38,204.40) scale(0.843,1)" font-family="Liberation Sans" font-weight="bold" font-style="normal" font-size="9.89" fill="#000" stroke="#000" stroke-width="0.25">8</text>
<line x1="263.70" y1="191.80" x2="263.70" y2="193.80" stroke="#444" stroke-width="0.8"/>
<text transform="translate(271.57,204.40) scale(0.843,1)" font-family="Liberation Sans" font-weight="bold" font-style="normal" font-size="9.89" fill="#000" stroke="#000" stroke-width="0.25">10</text>
<line x1="276.20" y1="191.80" x2="276.20" y2="193.80" stroke="#444" stroke-width="0.8"/>
<text transform="translate(284.07,204.40) scale(0.843,1)" font-family="Liberation Sans" font-weight="bold" font-style="normal" font-size="9.89" fill="#000" stroke="#000" stroke-width="0.25">12</text>
<line x1="288.70" y1="191.80" x2="288.70" y2="193.80" stroke="#444" stroke-width="0.8"/>
<text transform="translate(296.57,204.40) scale(0.843,1)" font-family="Liberation Sans" font-weight="bold" font-style="normal" font-size="9.89" fill="#000" stroke="#000" stroke-width="0.25">14</text>
<line x1="301.20" y1="191.80" x2="301.20" y2="193.80" stroke="#444" stroke-width="0.8"/>
<text transform="translate(309.07,204.40) scale(0.843,1)" font-family="Liberation Sans" font-weight="bold" font-style="normal" font-size="9.89" fill="#000" stroke="#000" stroke-width="0.25">16</text>
<line x1="313.70" y1="191.80" x2="313.70" y2="193.80" stroke="#444" stroke-width="0.8"/>
<text transform="translate(321.57,204.40) scale(0.843,1)" font-family="Liberation Sans" font-weight="bold" font-style="normal" font-size="9.89" fill="#000" stroke="#000" stroke-width="0.25">18</text>
<line x1="326.20" y1="191.80" x2="326.20" y2="193.80" stroke="#444" stroke-width="0.8"/>
<text transform="translate(334.07,204.40) scale(0.843,1)" font-family="Liberation Sans" font-weight="bold" font-style="normal" font-size="9.89" fill="#000" stroke="#000" stroke-width="0.25">20</text>
<line x1="338.70" y1="191.80" x2="338.70" y2="193.80" stroke="#444" stroke-width="0.8"/>
<polyline points="213.70,191.80 226.20,187.48 238.70,176.69 251.20,168.63 269.95,119.07 288.70,119.07 307.45,183.99 338.70,186.47" fill="none" stroke="#1a1a1a" stroke-width="1.1" stroke-linejoin="round"/>
<polygon points="213.70,190.10 215.40,191.80 213.70,193.50 212.00,191.80" fill="#1a1a1a"/>
<polygon points="226.20,185.78 227.90,187.48 226.20,189.18 224.50,187.48" fill="#1a1a1a"/>
<polygon points="238.70,174.99 240.40,176.69 238.70,178.39 237.00,176.69" fill="#1a1a1a"/>
<polygon points="251.20,166.93 252.90,168.63 251.20,170.33 249.50,168.63" fill="#1a1a1a"/>
<polygon points="269.95,117.37 271.65,119.07 269.95,120.77 268.25,119.07" fill="#1a1a1a"/>
<polygon points="288.70,117.37 290.40,119.07 288.70,120.77 287.00,119.07" fill="#1a1a1a"/>
<polygon points="307.45,182.29 309.15,183.99 307.45,185.69 305.75,183.99" fill="#1a1a1a"/>
<polygon points="338.70,184.77 340.40,186.47 338.70,188.17 337.00,186.47" fill="#1a1a1a"/>
<text transform="translate(298.39,127.70) scale(0.859,1)" font-family="Liberation Sans" font-weight="normal" font-style="italic" font-size="12.89" fill="#111" stroke="#111" stroke-width="0.45">CD34</text>
<line x1="377.80" y1="94.50" x2="513.00" y2="94.50" stroke="#777" stroke-width="1.1"/>
<line x1="513.00" y1="94.50" x2="513.00" y2="192.10" stroke="#777" stroke-width="1.1"/>
<line x1="377.80" y1="192.10" x2="513.00" y2="192.10" stroke="#333" stroke-width="1.2"/>
<line x1="377.80" y1="94.50" x2="377.80" y2="192.10" stroke="#333" stroke-width="1.2"/>
<text transform="translate(369.11,194.60) scale(1.000,1)" font-family="Liberation Sans" font-weight="bold" font-style="normal" font-size="7.16" fill="#000" stroke="#000" stroke-width="0.25">0</text>
<line x1="376.00" y1="192.10" x2="377.80" y2="192.10" stroke="#333" stroke-width="0.8"/>
<text transform="translate(369.02,170.20) scale(1.000,1)" font-family="Liberation Sans" font-weight="bold" font-style="normal" font-size="7.16" fill="#000" stroke="#000" stroke-width="0.25">1</text>
<line x1="376.00" y1="167.70" x2="377.80" y2="167.70" stroke="#333" stroke-width="0.8"/>
<text transform="translate(369.10,145.80) scale(1.000,1)" font-family="Liberation Sans" font-weight="bold" font-style="normal" font-size="7.16" fill="#000" stroke="#000" stroke-width="0.25">2</text>
<line x1="376.00" y1="143.30" x2="377.80" y2="143.30" stroke="#333" stroke-width="0.8"/>
<text transform="translate(369.07,121.40) scale(1.000,1)" font-family="Liberation Sans" font-weight="bold" font-style="normal" font-size="7.16" fill="#000" stroke="#000" stroke-width="0.25">3</text>
<line x1="376.00" y1="118.90" x2="377.80" y2="118.90" stroke="#333" stroke-width="0.8"/>
<text transform="translate(368.85,97.00) scale(1.000,1)" font-family="Liberation Sans" font-weight="bold" font-style="normal" font-size="7.16" fill="#000" stroke="#000" stroke-width="0.25">4</text>
<line x1="376.00" y1="94.50" x2="377.80" y2="94.50" stroke="#333" stroke-width="0.8"/>
<line x1="376.50" y1="187.22" x2="377.80" y2="187.22" stroke="#333" stroke-width="0.8"/>
<line x1="376.50" y1="182.34" x2="377.80" y2="182.34" stroke="#333" stroke-width="0.8"/>
<line x1="376.50" y1="177.46" x2="377.80" y2="177.46" stroke="#333" stroke-width="0.8"/>
<line x1="376.50" y1="172.58" x2="377.80" y2="172.58" stroke="#333" stroke-width="0.8"/>
<line x1="376.50" y1="162.82" x2="377.80" y2="162.82" stroke="#333" stroke-width="0.8"/>
<line x1="376.50" y1="157.94" x2="377.80" y2="157.94" stroke="#333" stroke-width="0.8"/>
<line x1="376.50" y1="153.06" x2="377.80" y2="153.06" stroke="#333" stroke-width="0.8"/>
<line x1="376.50" y1="148.18" x2="377.80" y2="148.18" stroke="#333" stroke-width="0.8"/>
<line x1="376.50" y1="138.42" x2="377.80" y2="138.42" stroke="#333" stroke-width="0.8"/>
<line x1="376.50" y1="133.54" x2="377.80" y2="133.54" stroke="#333" stroke-width="0.8"/>
<line x1="376.50" y1="128.66" x2="377.80" y2="128.66" stroke="#333" stroke-width="0.8"/>
<line x1="376.50" y1="123.78" x2="377.80" y2="123.78" stroke="#333" stroke-width="0.8"/>
<line x1="376.50" y1="114.02" x2="377.80" y2="114.02" stroke="#333" stroke-width="0.8"/>
<line x1="376.50" y1="109.14" x2="377.80" y2="109.14" stroke="#333" stroke-width="0.8"/>
<line x1="376.50" y1="104.26" x2="377.80" y2="104.26" stroke="#333" stroke-width="0.8"/>
<line x1="376.50" y1="99.38" x2="377.80" y2="99.38" stroke="#333" stroke-width="0.8"/>
<text transform="translate(376.26,203.50) scale(0.826,1)" font-family="Liberation Sans" font-weight="bold" font-style="normal" font-size="8.88" fill="#000" stroke="#000" stroke-width="0.25">0</text>
<line x1="378.30" y1="192.10" x2="378.30" y2="194.10" stroke="#444" stroke-width="0.8"/>
<text transform="translate(389.14,203.50) scale(0.826,1)" font-family="Liberation Sans" font-weight="bold" font-style="normal" font-size="8.88" fill="#000" stroke="#000" stroke-width="0.25">2</text>
<line x1="391.18" y1="192.10" x2="391.18" y2="194.10" stroke="#444" stroke-width="0.8"/>
<text transform="translate(402.02,203.50) scale(0.826,1)" font-family="Liberation Sans" font-weight="bold" font-style="normal" font-size="8.88" fill="#000" stroke="#000" stroke-width="0.25">4</text>
<line x1="404.06" y1="192.10" x2="404.06" y2="194.10" stroke="#444" stroke-width="0.8"/>
<text transform="translate(414.90,203.50) scale(0.826,1)" font-family="Liberation Sans" font-weight="bold" font-style="normal" font-size="8.88" fill="#000" stroke="#000" stroke-width="0.25">6</text>
<line x1="416.94" y1="192.10" x2="416.94" y2="194.10" stroke="#444" stroke-width="0.8"/>
<text transform="translate(427.78,203.50) scale(0.826,1)" font-family="Liberation Sans" font-weight="bold" font-style="normal" font-size="8.88" fill="#000" stroke="#000" stroke-width="0.25">8</text>
<line x1="429.82" y1="192.10" x2="429.82" y2="194.10" stroke="#444" stroke-width="0.8"/>
<text transform="translate(438.62,203.50) scale(0.826,1)" font-family="Liberation Sans" font-weight="bold" font-style="normal" font-size="8.88" fill="#000" stroke="#000" stroke-width="0.25">10</text>
<line x1="442.70" y1="192.10" x2="442.70" y2="194.10" stroke="#444" stroke-width="0.8"/>
<text transform="translate(451.50,203.50) scale(0.826,1)" font-family="Liberation Sans" font-weight="bold" font-style="normal" font-size="8.88" fill="#000" stroke="#000" stroke-width="0.25">12</text>
<line x1="455.58" y1="192.10" x2="455.58" y2="194.10" stroke="#444" stroke-width="0.8"/>
<text transform="translate(464.38,203.50) scale(0.826,1)" font-family="Liberation Sans" font-weight="bold" font-style="normal" font-size="8.88" fill="#000" stroke="#000" stroke-width="0.25">14</text>
<line x1="468.46" y1="192.10" x2="468.46" y2="194.10" stroke="#444" stroke-width="0.8"/>
<text transform="translate(477.26,203.50) scale(0.826,1)" font-family="Liberation Sans" font-weight="bold" font-style="normal" font-size="8.88" fill="#000" stroke="#000" stroke-width="0.25">16</text>
<line x1="481.34" y1="192.10" x2="481.34" y2="194.10" stroke="#444" stroke-width="0.8"/>
<text transform="translate(490.14,203.50) scale(0.826,1)" font-family="Liberation Sans" font-weight="bold" font-style="normal" font-size="8.88" fill="#000" stroke="#000" stroke-width="0.25">18</text>
<line x1="494.22" y1="192.10" x2="494.22" y2="194.10" stroke="#444" stroke-width="0.8"/>
<text transform="translate(503.02,203.50) scale(0.826,1)" font-family="Liberation Sans" font-weight="bold" font-style="normal" font-size="8.88" fill="#000" stroke="#000" stroke-width="0.25">20</text>
<line x1="507.10" y1="192.10" x2="507.10" y2="194.10" stroke="#444" stroke-width="0.8"/>
<line x1="378.30" y1="169.41" x2="378.30" y2="165.99" stroke="#333" stroke-width="0.8"/>
<line x1="377.20" y1="169.41" x2="379.40" y2="169.41" stroke="#333" stroke-width="0.8"/>
<line x1="377.20" y1="165.99" x2="379.40" y2="165.99" stroke="#333" stroke-width="0.8"/>
<line x1="391.18" y1="175.02" x2="391.18" y2="171.60" stroke="#333" stroke-width="0.8"/>
<line x1="390.08" y1="175.02" x2="392.28" y2="175.02" stroke="#333" stroke-width="0.8"/>
<line x1="390.08" y1="171.60" x2="392.28" y2="171.60" stroke="#333" stroke-width="0.8"/>
<line x1="404.06" y1="175.02" x2="404.06" y2="171.60" stroke="#333" stroke-width="0.8"/>
<line x1="402.96" y1="175.02" x2="405.16" y2="175.02" stroke="#333" stroke-width="0.8"/>
<line x1="402.96" y1="171.60" x2="405.16" y2="171.60" stroke="#333" stroke-width="0.8"/>
<line x1="416.94" y1="140.13" x2="416.94" y2="136.71" stroke="#333" stroke-width="0.8"/>
<line x1="415.84" y1="140.13" x2="418.04" y2="140.13" stroke="#333" stroke-width="0.8"/>
<line x1="415.84" y1="136.71" x2="418.04" y2="136.71" stroke="#333" stroke-width="0.8"/>
<line x1="436.26" y1="111.34" x2="436.26" y2="107.92" stroke="#333" stroke-width="0.8"/>
<line x1="435.16" y1="111.34" x2="437.36" y2="111.34" stroke="#333" stroke-width="0.8"/>
<line x1="435.16" y1="107.92" x2="437.36" y2="107.92" stroke="#333" stroke-width="0.8"/>
<line x1="455.58" y1="122.07" x2="455.58" y2="118.66" stroke="#333" stroke-width="0.8"/>
<line x1="454.48" y1="122.07" x2="456.68" y2="122.07" stroke="#333" stroke-width="0.8"/>
<line x1="454.48" y1="118.66" x2="456.68" y2="118.66" stroke="#333" stroke-width="0.8"/>
<line x1="474.90" y1="159.65" x2="474.90" y2="156.23" stroke="#333" stroke-width="0.8"/>
<line x1="473.80" y1="159.65" x2="476.00" y2="159.65" stroke="#333" stroke-width="0.8"/>
<line x1="473.80" y1="156.23" x2="476.00" y2="156.23" stroke="#333" stroke-width="0.8"/>
<line x1="507.10" y1="146.72" x2="507.10" y2="143.30" stroke="#333" stroke-width="0.8"/>
<line x1="506.00" y1="146.72" x2="508.20" y2="146.72" stroke="#333" stroke-width="0.8"/>
<line x1="506.00" y1="143.30" x2="508.20" y2="143.30" stroke="#333" stroke-width="0.8"/>
<line x1="378.30" y1="169.16" x2="378.30" y2="166.24" stroke="#333" stroke-width="0.8"/>
<line x1="377.20" y1="169.16" x2="379.40" y2="169.16" stroke="#333" stroke-width="0.8"/>
<line x1="377.20" y1="166.24" x2="379.40" y2="166.24" stroke="#333" stroke-width="0.8"/>
<line x1="391.18" y1="188.20" x2="391.18" y2="185.27" stroke="#333" stroke-width="0.8"/>
<line x1="390.08" y1="188.20" x2="392.28" y2="188.20" stroke="#333" stroke-width="0.8"/>
<line x1="390.08" y1="185.27" x2="392.28" y2="185.27" stroke="#333" stroke-width="0.8"/>
<line x1="404.06" y1="186.73" x2="404.06" y2="183.80" stroke="#333" stroke-width="0.8"/>
<line x1="402.96" y1="186.73" x2="405.16" y2="186.73" stroke="#333" stroke-width="0.8"/>
<line x1="402.96" y1="183.80" x2="405.16" y2="183.80" stroke="#333" stroke-width="0.8"/>
<line x1="416.94" y1="190.64" x2="416.94" y2="187.71" stroke="#333" stroke-width="0.8"/>
<line x1="415.84" y1="190.64" x2="418.04" y2="190.64" stroke="#333" stroke-width="0.8"/>
<line x1="415.84" y1="187.71" x2="418.04" y2="187.71" stroke="#333" stroke-width="0.8"/>
<line x1="436.26" y1="189.66" x2="436.26" y2="186.73" stroke="#333" stroke-width="0.8"/>
<line x1="435.16" y1="189.66" x2="437.36" y2="189.66" stroke="#333" stroke-width="0.8"/>
<line x1="435.16" y1="186.73" x2="437.36" y2="186.73" stroke="#333" stroke-width="0.8"/>
<line x1="455.58" y1="190.39" x2="455.58" y2="187.46" stroke="#333" stroke-width="0.8"/>
<line x1="454.48" y1="190.39" x2="456.68" y2="190.39" stroke="#333" stroke-width="0.8"/>
<line x1="454.48" y1="187.46" x2="456.68" y2="187.46" stroke="#333" stroke-width="0.8"/>
<line x1="474.90" y1="188.20" x2="474.90" y2="185.27" stroke="#333" stroke-width="0.8"/>
<line x1="473.80" y1="188.20" x2="476.00" y2="188.20" stroke="#333" stroke-width="0.8"/>
<line x1="473.80" y1="185.27" x2="476.00" y2="185.27" stroke="#333" stroke-width="0.8"/>
<line x1="507.10" y1="186.98" x2="507.10" y2="184.05" stroke="#333" stroke-width="0.8"/>
<line x1="506.00" y1="186.98" x2="508.20" y2="186.98" stroke="#333" stroke-width="0.8"/>
<line x1="506.00" y1="184.05" x2="508.20" y2="184.05" stroke="#333" stroke-width="0.8"/>
<polyline points="378.30,167.70 391.18,173.31 404.06,173.31 416.94,138.42 436.26,109.63 455.58,120.36 474.90,157.94 507.10,145.01" fill="none" stroke="#333" stroke-width="1.1" stroke-linejoin="round"/>
<rect x="377.30" y="166.70" width="2.00" height="2.00" fill="#333"/>
<rect x="390.18" y="172.31" width="2.00" height="2.00" fill="#333"/>
<rect x="403.06" y="172.31" width="2.00" height="2.00" fill="#333"/>
<rect x="415.94" y="137.42" width="2.00" height="2.00" fill="#333"/>
<rect x="435.26" y="108.63" width="2.00" height="2.00" fill="#333"/>
<rect x="454.58" y="119.36" width="2.00" height="2.00" fill="#333"/>
<rect x="473.90" y="156.94" width="2.00" height="2.00" fill="#333"/>
<rect x="506.10" y="144.01" width="2.00" height="2.00" fill="#333"/>
<polyline points="378.30,167.70 391.18,186.73 404.06,185.27 416.94,189.17 436.26,188.20 455.58,188.93 474.90,186.73 507.10,185.51" fill="none" stroke="#333" stroke-width="1.1" stroke-linejoin="round"/>
<rect x="377.30" y="166.70" width="2.00" height="2.00" fill="#333"/>
<rect x="390.18" y="185.73" width="2.00" height="2.00" fill="#333"/>
<rect x="403.06" y="184.27" width="2.00" height="2.00" fill="#333"/>
<rect x="415.94" y="188.17" width="2.00" height="2.00" fill="#333"/>
<rect x="435.26" y="187.20" width="2.00" height="2.00" fill="#333"/>
<rect x="454.58" y="187.93" width="2.00" height="2.00" fill="#333"/>
<rect x="473.90" y="185.73" width="2.00" height="2.00" fill="#333"/>
<rect x="506.10" y="184.51" width="2.00" height="2.00" fill="#333"/>
<text transform="translate(421.40,107.50) scale(0.880,1)" font-family="Liberation Sans" font-weight="normal" font-style="italic" font-size="11.03" fill="#666" stroke="#666" stroke-width="0.4">KDR/flk-1</text>
<text transform="translate(464.02,107.50) scale(0.852,1)" font-family="Liberation Sans" font-weight="normal" font-style="normal" font-size="11.03" fill="#666" stroke="#666" stroke-width="0.4">(VEGFR2)</text>
<text transform="translate(437.90,179.80) scale(0.931,1)" font-family="Liberation Sans" font-weight="normal" font-style="italic" font-size="10.32" fill="#333" stroke="#333" stroke-width="0.6">FLT-1</text>
<text transform="translate(462.91,179.80) scale(0.924,1)" font-family="Liberation Sans" font-weight="normal" font-style="normal" font-size="10.32" fill="#333" stroke="#333" stroke-width="0.4">(VEGFR1)</text>
<text transform="translate(7.71,197.11) rotate(-90) scale(0.863,1)" font-family="Liberation Sans" font-weight="bold" font-style="normal" font-size="8.76" fill="#000" stroke="#000" stroke-width="0.25">FOLD CHANGE EXPRESSION</text>
<text transform="translate(17.21,212.10) rotate(-90) scale(0.845,1)" font-family="Liberation Sans" font-weight="bold" font-style="normal" font-size="8.85" fill="#000" stroke="#000" stroke-width="0.25">FROM UNDIFFERENTIATED hESC</text>
<text transform="translate(178.06,225.90) scale(1.032,1)" font-family="Liberation Serif" font-weight="bold" font-style="normal" font-size="12.99" fill="#000" stroke="#000" stroke-width="0.3">DAYS hEB DEVELOPMENT</text>
<text transform="translate(-2.02,264.60) scale(1.015,1)" font-family="Liberation Sans" font-weight="bold" font-style="normal" font-size="25.36" fill="#000" stroke="#000" stroke-width="0.25">B</text>
<text transform="translate(106.18,255.00) scale(1.039,1)" font-family="Liberation Serif" font-weight="bold" font-style="normal" font-size="11.78" fill="#000" stroke="#000" stroke-width="0.25">DAYS</text>
<line x1="106.40" y1="257.50" x2="139.00" y2="257.50" stroke="#000" stroke-width="1.1"/>
<text transform="translate(76.81,267.40) scale(1.000,1)" font-family="Liberation Serif" font-weight="bold" font-style="normal" font-size="8.76" fill="#000" stroke="#000" stroke-width="0.25">0</text>
<text transform="translate(88.01,267.40) scale(1.000,1)" font-family="Liberation Serif" font-weight="bold" font-style="normal" font-size="8.76" fill="#000" stroke="#000" stroke-width="0.25">2</text>
<text transform="translate(98.81,267.40) scale(1.000,1)" font-family="Liberation Serif" font-weight="bold" font-style="normal" font-size="8.76" fill="#000" stroke="#000" stroke-width="0.25">4</text>
<text transform="translate(109.71,267.40) scale(1.000,1)" font-family="Liberation Serif" font-weight="bold" font-style="normal" font-size="8.76" fill="#000" stroke="#000" stroke-width="0.25">6</text>
<text transform="translate(120.71,267.40) scale(1.000,1)" font-family="Liberation Serif" font-weight="bold" font-style="normal" font-size="8.76" fill="#000" stroke="#000" stroke-width="0.25">9</text>
<text transform="translate(132.52,267.40) scale(1.000,1)" font-family="Liberation Serif" font-weight="bold" font-style="normal" font-size="8.76" fill="#000" stroke="#000" stroke-width="0.25">12</text>
<text transform="translate(145.22,267.40) scale(1.000,1)" font-family="Liberation Serif" font-weight="bold" font-style="normal" font-size="8.76" fill="#000" stroke="#000" stroke-width="0.25">15</text>
<text transform="translate(157.92,267.40) scale(1.000,1)" font-family="Liberation Serif" font-weight="bold" font-style="normal" font-size="8.76" fill="#000" stroke="#000" stroke-width="0.25">20</text>
<rect x="76.20" y="270.60" width="95.60" height="17.30" fill="#000"/>
<ellipse cx="117.50" cy="281.20" rx="3.68" ry="1.69" fill="rgba(255,255,255,0.57)" filter="url(#bl)"/>
<ellipse cx="117.50" cy="281.20" rx="2.50" ry="1.01" fill="rgba(255,255,255,0.95)" filter="url(#bl)"/>
<ellipse cx="129.00" cy="281.20" rx="3.68" ry="1.69" fill="rgba(255,255,255,0.51)" filter="url(#bl)"/>
<ellipse cx="129.00" cy="281.20" rx="2.50" ry="1.01" fill="rgba(255,255,255,0.85)" filter="url(#bl)"/>
<ellipse cx="140.60" cy="281.20" rx="3.68" ry="1.69" fill="rgba(255,255,255,0.51)" filter="url(#bl)"/>
<ellipse cx="140.60" cy="281.20" rx="2.50" ry="1.01" fill="rgba(255,255,255,0.85)" filter="url(#bl)"/>
<ellipse cx="152.30" cy="281.20" rx="3.68" ry="1.69" fill="rgba(255,255,255,0.54)" filter="url(#bl)"/>
<ellipse cx="152.30" cy="281.20" rx="2.50" ry="1.01" fill="rgba(255,255,255,0.90)" filter="url(#bl)"/>
<ellipse cx="164.30" cy="281.20" rx="3.68" ry="1.69" fill="rgba(255,255,255,0.54)" filter="url(#bl)"/>
<ellipse cx="164.30" cy="281.20" rx="2.50" ry="1.01" fill="rgba(255,255,255,0.90)" filter="url(#bl)"/>
<rect x="76.20" y="294.80" width="95.60" height="11.00" fill="#000"/>
<ellipse cx="82.50" cy="301.30" rx="3.68" ry="1.69" fill="rgba(255,255,255,0.55)" filter="url(#bl)"/>
<ellipse cx="82.50" cy="301.30" rx="2.50" ry="1.01" fill="rgba(255,255,255,0.92)" filter="url(#bl)"/>
<ellipse cx="94.00" cy="301.30" rx="3.68" ry="1.69" fill="rgba(255,255,255,0.55)" filter="url(#bl)"/>
<ellipse cx="94.00" cy="301.30" rx="2.50" ry="1.01" fill="rgba(255,255,255,0.92)" filter="url(#bl)"/>
<ellipse cx="106.00" cy="301.30" rx="3.68" ry="1.69" fill="rgba(255,255,255,0.55)" filter="url(#bl)"/>
<ellipse cx="106.00" cy="301.30" rx="2.50" ry="1.01" fill="rgba(255,255,255,0.92)" filter="url(#bl)"/>
<ellipse cx="117.50" cy="301.30" rx="3.68" ry="1.69" fill="rgba(255,255,255,0.55)" filter="url(#bl)"/>
<ellipse cx="117.50" cy="301.30" rx="2.50" ry="1.01" fill="rgba(255,255,255,0.92)" filter="url(#bl)"/>
<ellipse cx="129.00" cy="301.30" rx="3.68" ry="1.69" fill="rgba(255,255,255,0.55)" filter="url(#bl)"/>
<ellipse cx="129.00" cy="301.30" rx="2.50" ry="1.01" fill="rgba(255,255,255,0.92)" filter="url(#bl)"/>
<ellipse cx="140.60" cy="301.30" rx="3.68" ry="1.69" fill="rgba(255,255,255,0.55)" filter="url(#bl)"/>
<ellipse cx="140.60" cy="301.30" rx="2.50" ry="1.01" fill="rgba(255,255,255,0.92)" filter="url(#bl)"/>
<ellipse cx="152.30" cy="301.30" rx="3.68" ry="1.69" fill="rgba(255,255,255,0.55)" filter="url(#bl)"/>
<ellipse cx="152.30" cy="301.30" rx="2.50" ry="1.01" fill="rgba(255,255,255,0.92)" filter="url(#bl)"/>
<ellipse cx="164.30" cy="301.30" rx="3.68" ry="1.69" fill="rgba(255,255,255,0.55)" filter="url(#bl)"/>
<ellipse cx="164.30" cy="301.30" rx="2.50" ry="1.01" fill="rgba(255,255,255,0.92)" filter="url(#bl)"/>
<text transform="translate(36.31,284.00) scale(0.963,1)" font-family="Liberation Sans" font-weight="bold" font-style="italic" font-size="16.05" fill="#484848">SCL</text>
<text transform="translate(42.94,303.89) scale(1.037,1)" font-family="Liberation Sans" font-weight="bold" font-style="italic" font-size="11.30" fill="#111" stroke="#111" stroke-width="0.25">actin</text>
<text transform="translate(265.09,255.10) scale(1.085,1)" font-family="Liberation Serif" font-weight="bold" font-style="normal" font-size="11.18" fill="#000" stroke="#000" stroke-width="0.25">DAYS</text>
<line x1="265.30" y1="256.50" x2="297.60" y2="256.50" stroke="#000" stroke-width="1.1"/>
<text transform="translate(235.17,267.90) scale(1.000,1)" font-family="Liberation Serif" font-weight="bold" font-style="normal" font-size="10.12" fill="#000" stroke="#000" stroke-width="0.25">0</text>
<text transform="translate(248.67,267.90) scale(1.000,1)" font-family="Liberation Serif" font-weight="bold" font-style="normal" font-size="10.12" fill="#000" stroke="#000" stroke-width="0.25">2</text>
<text transform="translate(259.37,267.90) scale(1.000,1)" font-family="Liberation Serif" font-weight="bold" font-style="normal" font-size="10.12" fill="#000" stroke="#000" stroke-width="0.25">4</text>
<text transform="translate(269.87,267.90) scale(1.000,1)" font-family="Liberation Serif" font-weight="bold" font-style="normal" font-size="10.12" fill="#000" stroke="#000" stroke-width="0.25">6</text>
<text transform="translate(280.37,267.90) scale(1.000,1)" font-family="Liberation Serif" font-weight="bold" font-style="normal" font-size="10.12" fill="#000" stroke="#000" stroke-width="0.25">9</text>
<text transform="translate(291.54,267.90) scale(1.000,1)" font-family="Liberation Serif" font-weight="bold" font-style="normal" font-size="10.12" fill="#000" stroke="#000" stroke-width="0.25">12</text>
<text transform="translate(305.14,267.90) scale(1.000,1)" font-family="Liberation Serif" font-weight="bold" font-style="normal" font-size="10.12" fill="#000" stroke="#000" stroke-width="0.25">15</text>
<text transform="translate(318.24,267.90) scale(1.000,1)" font-family="Liberation Serif" font-weight="bold" font-style="normal" font-size="10.12" fill="#000" stroke="#000" stroke-width="0.25">20</text>
<rect x="232.00" y="271.10" width="100.00" height="15.70" fill="#080808"/>
<ellipse cx="238.00" cy="279.50" rx="3.68" ry="1.69" fill="rgba(255,255,255,0.24)" filter="url(#bl)"/>
<ellipse cx="238.00" cy="279.50" rx="2.50" ry="1.01" fill="rgba(255,255,255,0.40)" filter="url(#bl)"/>
<ellipse cx="262.30" cy="279.50" rx="3.15" ry="1.30" fill="rgba(255,255,255,0.15)" filter="url(#bl)"/>
<ellipse cx="262.30" cy="279.50" rx="2.14" ry="0.78" fill="rgba(255,255,255,0.25)" filter="url(#bl)"/>
<ellipse cx="276.00" cy="280.10" rx="4.46" ry="2.73" fill="rgba(255,255,255,0.60)" filter="url(#bl)"/>
<ellipse cx="276.00" cy="280.10" rx="3.03" ry="1.64" fill="rgba(255,255,255,1.00)" filter="url(#bl)"/>
<ellipse cx="288.20" cy="279.50" rx="3.68" ry="1.69" fill="rgba(255,255,255,0.27)" filter="url(#bl)"/>
<ellipse cx="288.20" cy="279.50" rx="2.50" ry="1.01" fill="rgba(255,255,255,0.45)" filter="url(#bl)"/>
<ellipse cx="299.70" cy="279.50" rx="4.20" ry="2.08" fill="rgba(255,255,255,0.57)" filter="url(#bl)"/>
<ellipse cx="299.70" cy="279.50" rx="2.86" ry="1.25" fill="rgba(255,255,255,0.95)" filter="url(#bl)"/>
<ellipse cx="312.80" cy="279.50" rx="3.68" ry="1.69" fill="rgba(255,255,255,0.51)" filter="url(#bl)"/>
<ellipse cx="312.80" cy="279.50" rx="2.50" ry="1.01" fill="rgba(255,255,255,0.85)" filter="url(#bl)"/>
<ellipse cx="324.90" cy="279.50" rx="3.68" ry="1.69" fill="rgba(255,255,255,0.39)" filter="url(#bl)"/>
<ellipse cx="324.90" cy="279.50" rx="2.50" ry="1.01" fill="rgba(255,255,255,0.65)" filter="url(#bl)"/>
<rect x="232.00" y="294.30" width="100.00" height="11.10" fill="#080808"/>
<ellipse cx="237.70" cy="299.80" rx="3.94" ry="1.95" fill="rgba(255,255,255,0.57)" filter="url(#bl)"/>
<ellipse cx="237.70" cy="299.80" rx="2.68" ry="1.17" fill="rgba(255,255,255,0.95)" filter="url(#bl)"/>
<ellipse cx="250.20" cy="299.80" rx="3.94" ry="1.95" fill="rgba(255,255,255,0.57)" filter="url(#bl)"/>
<ellipse cx="250.20" cy="299.80" rx="2.68" ry="1.17" fill="rgba(255,255,255,0.95)" filter="url(#bl)"/>
<ellipse cx="262.30" cy="299.80" rx="3.94" ry="1.95" fill="rgba(255,255,255,0.57)" filter="url(#bl)"/>
<ellipse cx="262.30" cy="299.80" rx="2.68" ry="1.17" fill="rgba(255,255,255,0.95)" filter="url(#bl)"/>
<ellipse cx="276.00" cy="299.80" rx="3.94" ry="1.95" fill="rgba(255,255,255,0.57)" filter="url(#bl)"/>
<ellipse cx="276.00" cy="299.80" rx="2.68" ry="1.17" fill="rgba(255,255,255,0.95)" filter="url(#bl)"/>
<ellipse cx="288.60" cy="299.80" rx="3.94" ry="1.95" fill="rgba(255,255,255,0.57)" filter="url(#bl)"/>
<ellipse cx="288.60" cy="299.80" rx="2.68" ry="1.17" fill="rgba(255,255,255,0.95)" filter="url(#bl)"/>
<ellipse cx="301.10" cy="299.80" rx="3.94" ry="1.95" fill="rgba(255,255,255,0.57)" filter="url(#bl)"/>
<ellipse cx="301.10" cy="299.80" rx="2.68" ry="1.17" fill="rgba(255,255,255,0.95)" filter="url(#bl)"/>
<ellipse cx="313.40" cy="299.80" rx="3.94" ry="1.95" fill="rgba(255,255,255,0.57)" filter="url(#bl)"/>
<ellipse cx="313.40" cy="299.80" rx="2.68" ry="1.17" fill="rgba(255,255,255,0.95)" filter="url(#bl)"/>
<ellipse cx="326.50" cy="299.80" rx="3.94" ry="1.95" fill="rgba(255,255,255,0.57)" filter="url(#bl)"/>
<ellipse cx="326.50" cy="299.80" rx="2.68" ry="1.17" fill="rgba(255,255,255,0.95)" filter="url(#bl)"/>
<text transform="translate(180.53,283.50) scale(1.000,1)" font-family="Liberation Sans" font-weight="bold" font-style="italic" font-size="15.76" fill="#333" stroke="#333" stroke-width="0.1">CDX4</text>
<text transform="translate(192.24,304.48) scale(0.967,1)" font-family="Liberation Sans" font-weight="bold" font-style="italic" font-size="12.53" fill="#111" stroke="#111" stroke-width="0.25">actin</text>
<text transform="translate(453.18,237.10) scale(1.099,1)" font-family="Liberation Serif" font-weight="bold" font-style="normal" font-size="11.18" fill="#000" stroke="#000" stroke-width="0.25">DAYS</text>
<line x1="453.40" y1="238.50" x2="486.10" y2="238.50" stroke="#000" stroke-width="1.1"/>
<text transform="translate(424.65,249.70) scale(1.000,1)" font-family="Liberation Serif" font-weight="bold" font-style="normal" font-size="9.82" fill="#000" stroke="#000" stroke-width="0.25">0</text>
<text transform="translate(435.75,249.70) scale(1.000,1)" font-family="Liberation Serif" font-weight="bold" font-style="normal" font-size="9.82" fill="#000" stroke="#000" stroke-width="0.25">2</text>
<text transform="translate(446.45,249.70) scale(1.000,1)" font-family="Liberation Serif" font-weight="bold" font-style="normal" font-size="9.82" fill="#000" stroke="#000" stroke-width="0.25">4</text>
<text transform="translate(456.95,249.70) scale(1.000,1)" font-family="Liberation Serif" font-weight="bold" font-style="normal" font-size="9.82" fill="#000" stroke="#000" stroke-width="0.25">6</text>
<text transform="translate(467.05,249.70) scale(1.000,1)" font-family="Liberation Serif" font-weight="bold" font-style="normal" font-size="9.82" fill="#000" stroke="#000" stroke-width="0.25">9</text>
<text transform="translate(478.79,249.70) scale(1.000,1)" font-family="Liberation Serif" font-weight="bold" font-style="normal" font-size="9.82" fill="#000" stroke="#000" stroke-width="0.25">12</text>
<text transform="translate(491.89,249.70) scale(1.000,1)" font-family="Liberation Serif" font-weight="bold" font-style="normal" font-size="9.82" fill="#000" stroke="#000" stroke-width="0.25">15</text>
<text transform="translate(504.99,249.70) scale(1.000,1)" font-family="Liberation Serif" font-weight="bold" font-style="normal" font-size="9.82" fill="#000" stroke="#000" stroke-width="0.25">20</text>
<rect x="420.20" y="252.90" width="95.60" height="17.10" fill="#000"/>
<ellipse cx="426.80" cy="262.00" rx="3.94" ry="1.69" fill="rgba(255,255,255,0.03)" filter="url(#bl)"/>
<ellipse cx="426.80" cy="262.00" rx="2.68" ry="1.01" fill="rgba(255,255,255,0.05)" filter="url(#bl)"/>
<ellipse cx="461.60" cy="262.00" rx="3.94" ry="1.69" fill="rgba(255,255,255,0.57)" filter="url(#bl)"/>
<ellipse cx="461.60" cy="262.00" rx="2.68" ry="1.01" fill="rgba(255,255,255,0.95)" filter="url(#bl)"/>
<ellipse cx="473.90" cy="262.00" rx="3.94" ry="1.69" fill="rgba(255,255,255,0.45)" filter="url(#bl)"/>
<ellipse cx="473.90" cy="262.00" rx="2.68" ry="1.01" fill="rgba(255,255,255,0.75)" filter="url(#bl)"/>
<ellipse cx="486.50" cy="262.00" rx="3.94" ry="1.69" fill="rgba(255,255,255,0.57)" filter="url(#bl)"/>
<ellipse cx="486.50" cy="262.00" rx="2.68" ry="1.01" fill="rgba(255,255,255,0.95)" filter="url(#bl)"/>
<ellipse cx="498.70" cy="262.00" rx="3.94" ry="1.69" fill="rgba(255,255,255,0.36)" filter="url(#bl)"/>
<ellipse cx="498.70" cy="262.00" rx="2.68" ry="1.01" fill="rgba(255,255,255,0.60)" filter="url(#bl)"/>
<rect x="420.20" y="276.60" width="95.60" height="17.40" fill="#000"/>
<ellipse cx="447.50" cy="287.20" rx="3.94" ry="2.08" fill="rgba(255,255,255,0.09)" filter="url(#bl)"/>
<ellipse cx="447.50" cy="287.20" rx="2.68" ry="1.25" fill="rgba(255,255,255,0.15)" filter="url(#bl)"/>
<ellipse cx="459.50" cy="287.20" rx="3.94" ry="2.08" fill="rgba(255,255,255,0.60)" filter="url(#bl)"/>
<ellipse cx="459.50" cy="287.20" rx="2.68" ry="1.25" fill="rgba(255,255,255,1.00)" filter="url(#bl)"/>
<ellipse cx="471.00" cy="287.20" rx="3.94" ry="2.08" fill="rgba(255,255,255,0.57)" filter="url(#bl)"/>
<ellipse cx="471.00" cy="287.20" rx="2.68" ry="1.25" fill="rgba(255,255,255,0.95)" filter="url(#bl)"/>
<ellipse cx="482.90" cy="287.20" rx="3.94" ry="2.08" fill="rgba(255,255,255,0.57)" filter="url(#bl)"/>
<ellipse cx="482.90" cy="287.20" rx="2.68" ry="1.25" fill="rgba(255,255,255,0.95)" filter="url(#bl)"/>
<ellipse cx="494.70" cy="287.20" rx="3.94" ry="2.08" fill="rgba(255,255,255,0.57)" filter="url(#bl)"/>
<ellipse cx="494.70" cy="287.20" rx="2.68" ry="1.25" fill="rgba(255,255,255,0.95)" filter="url(#bl)"/>
<ellipse cx="506.60" cy="287.20" rx="3.94" ry="2.08" fill="rgba(255,255,255,0.57)" filter="url(#bl)"/>
<ellipse cx="506.60" cy="287.20" rx="2.68" ry="1.25" fill="rgba(255,255,255,0.95)" filter="url(#bl)"/>
<rect x="420.20" y="298.90" width="95.60" height="10.50" fill="#000"/>
<ellipse cx="426.40" cy="305.50" rx="3.68" ry="1.69" fill="rgba(255,255,255,0.54)" filter="url(#bl)"/>
<ellipse cx="426.40" cy="305.50" rx="2.50" ry="1.01" fill="rgba(255,255,255,0.90)" filter="url(#bl)"/>
<ellipse cx="438.00" cy="305.50" rx="3.68" ry="1.69" fill="rgba(255,255,255,0.54)" filter="url(#bl)"/>
<ellipse cx="438.00" cy="305.50" rx="2.50" ry="1.01" fill="rgba(255,255,255,0.90)" filter="url(#bl)"/>
<ellipse cx="449.60" cy="305.50" rx="3.68" ry="1.69" fill="rgba(255,255,255,0.54)" filter="url(#bl)"/>
<ellipse cx="449.60" cy="305.50" rx="2.50" ry="1.01" fill="rgba(255,255,255,0.90)" filter="url(#bl)"/>
<ellipse cx="461.20" cy="305.50" rx="3.68" ry="1.69" fill="rgba(255,255,255,0.54)" filter="url(#bl)"/>
<ellipse cx="461.20" cy="305.50" rx="2.50" ry="1.01" fill="rgba(255,255,255,0.90)" filter="url(#bl)"/>
<ellipse cx="472.80" cy="305.50" rx="3.68" ry="1.69" fill="rgba(255,255,255,0.54)" filter="url(#bl)"/>
<ellipse cx="472.80" cy="305.50" rx="2.50" ry="1.01" fill="rgba(255,255,255,0.90)" filter="url(#bl)"/>
<ellipse cx="484.40" cy="305.50" rx="3.68" ry="1.69" fill="rgba(255,255,255,0.54)" filter="url(#bl)"/>
<ellipse cx="484.40" cy="305.50" rx="2.50" ry="1.01" fill="rgba(255,255,255,0.90)" filter="url(#bl)"/>
<ellipse cx="496.30" cy="305.50" rx="3.68" ry="1.69" fill="rgba(255,255,255,0.54)" filter="url(#bl)"/>
<ellipse cx="496.30" cy="305.50" rx="2.50" ry="1.01" fill="rgba(255,255,255,0.90)" filter="url(#bl)"/>
<ellipse cx="507.90" cy="305.50" rx="3.68" ry="1.69" fill="rgba(255,255,255,0.54)" filter="url(#bl)"/>
<ellipse cx="507.90" cy="305.50" rx="2.50" ry="1.01" fill="rgba(255,255,255,0.90)" filter="url(#bl)"/>
<text transform="translate(358.65,265.60) scale(1.014,1)" font-family="Liberation Sans" font-weight="bold" font-style="italic" font-size="15.19" fill="#666" stroke="#666" stroke-width="0.1">GATA1</text>
<text transform="translate(358.65,289.40) scale(1.012,1)" font-family="Liberation Sans" font-weight="bold" font-style="italic" font-size="15.19" fill="#333" stroke="#333" stroke-width="0.1">GATA2</text>
<text transform="translate(380.54,309.10) scale(1.167,1)" font-family="Liberation Sans" font-weight="bold" font-style="italic" font-size="10.08" fill="#111" stroke="#111" stroke-width="0.25">actin</text>
<line x1="49.10" y1="319.50" x2="177.60" y2="319.50" stroke="#777" stroke-width="1.1"/>
<line x1="177.60" y1="319.50" x2="177.60" y2="412.40" stroke="#777" stroke-width="1.1"/>
<line x1="49.10" y1="412.40" x2="177.60" y2="412.40" stroke="#333" stroke-width="1.0"/>
<line x1="49.10" y1="319.50" x2="49.10" y2="412.40" stroke="#333" stroke-width="1.0"/>
<text transform="translate(41.35,414.85) scale(1.038,1)" font-family="Liberation Sans" font-weight="bold" font-style="normal" font-size="7.02" fill="#000" stroke="#000" stroke-width="0.25">1</text>
<line x1="47.40" y1="412.40" x2="49.20" y2="412.40" stroke="#333" stroke-width="0.8"/>
<text transform="translate(37.40,396.27) scale(1.038,1)" font-family="Liberation Sans" font-weight="bold" font-style="normal" font-size="7.02" fill="#000" stroke="#000" stroke-width="0.25">10</text>
<line x1="47.40" y1="393.82" x2="49.20" y2="393.82" stroke="#333" stroke-width="0.8"/>
<text transform="translate(33.35,377.69) scale(1.038,1)" font-family="Liberation Sans" font-weight="bold" font-style="normal" font-size="7.02" fill="#000" stroke="#000" stroke-width="0.25">100</text>
<line x1="47.40" y1="375.24" x2="49.20" y2="375.24" stroke="#333" stroke-width="0.8"/>
<text transform="translate(29.29,359.11) scale(1.038,1)" font-family="Liberation Sans" font-weight="bold" font-style="normal" font-size="7.02" fill="#000" stroke="#000" stroke-width="0.25">1000</text>
<line x1="47.40" y1="356.66" x2="49.20" y2="356.66" stroke="#333" stroke-width="0.8"/>
<text transform="translate(25.24,340.53) scale(1.038,1)" font-family="Liberation Sans" font-weight="bold" font-style="normal" font-size="7.02" fill="#000" stroke="#000" stroke-width="0.25">10000</text>
<line x1="47.40" y1="338.08" x2="49.20" y2="338.08" stroke="#333" stroke-width="0.8"/>
<text transform="translate(21.19,321.95) scale(1.038,1)" font-family="Liberation Sans" font-weight="bold" font-style="normal" font-size="7.02" fill="#000" stroke="#000" stroke-width="0.25">100000</text>
<line x1="47.40" y1="319.50" x2="49.20" y2="319.50" stroke="#333" stroke-width="0.8"/>
<line x1="48.20" y1="406.81" x2="49.20" y2="406.81" stroke="#333" stroke-width="0.8"/>
<line x1="48.20" y1="403.54" x2="49.20" y2="403.54" stroke="#333" stroke-width="0.8"/>
<line x1="48.20" y1="401.21" x2="49.20" y2="401.21" stroke="#333" stroke-width="0.8"/>
<line x1="48.20" y1="399.41" x2="49.20" y2="399.41" stroke="#333" stroke-width="0.8"/>
<line x1="48.20" y1="397.94" x2="49.20" y2="397.94" stroke="#333" stroke-width="0.8"/>
<line x1="48.20" y1="396.70" x2="49.20" y2="396.70" stroke="#333" stroke-width="0.8"/>
<line x1="48.20" y1="395.62" x2="49.20" y2="395.62" stroke="#333" stroke-width="0.8"/>
<line x1="48.20" y1="394.67" x2="49.20" y2="394.67" stroke="#333" stroke-width="0.8"/>
<line x1="48.20" y1="388.23" x2="49.20" y2="388.23" stroke="#333" stroke-width="0.8"/>
<line x1="48.20" y1="384.96" x2="49.20" y2="384.96" stroke="#333" stroke-width="0.8"/>
<line x1="48.20" y1="382.63" x2="49.20" y2="382.63" stroke="#333" stroke-width="0.8"/>
<line x1="48.20" y1="380.83" x2="49.20" y2="380.83" stroke="#333" stroke-width="0.8"/>
<line x1="48.20" y1="379.36" x2="49.20" y2="379.36" stroke="#333" stroke-width="0.8"/>
<line x1="48.20" y1="378.12" x2="49.20" y2="378.12" stroke="#333" stroke-width="0.8"/>
<line x1="48.20" y1="377.04" x2="49.20" y2="377.04" stroke="#333" stroke-width="0.8"/>
<line x1="48.20" y1="376.09" x2="49.20" y2="376.09" stroke="#333" stroke-width="0.8"/>
<line x1="48.20" y1="369.65" x2="49.20" y2="369.65" stroke="#333" stroke-width="0.8"/>
<line x1="48.20" y1="366.38" x2="49.20" y2="366.38" stroke="#333" stroke-width="0.8"/>
<line x1="48.20" y1="364.05" x2="49.20" y2="364.05" stroke="#333" stroke-width="0.8"/>
<line x1="48.20" y1="362.25" x2="49.20" y2="362.25" stroke="#333" stroke-width="0.8"/>
<line x1="48.20" y1="360.78" x2="49.20" y2="360.78" stroke="#333" stroke-width="0.8"/>
<line x1="48.20" y1="359.54" x2="49.20" y2="359.54" stroke="#333" stroke-width="0.8"/>
<line x1="48.20" y1="358.46" x2="49.20" y2="358.46" stroke="#333" stroke-width="0.8"/>
<line x1="48.20" y1="357.51" x2="49.20" y2="357.51" stroke="#333" stroke-width="0.8"/>
<line x1="48.20" y1="351.07" x2="49.20" y2="351.07" stroke="#333" stroke-width="0.8"/>
<line x1="48.20" y1="347.80" x2="49.20" y2="347.80" stroke="#333" stroke-width="0.8"/>
<line x1="48.20" y1="345.47" x2="49.20" y2="345.47" stroke="#333" stroke-width="0.8"/>
<line x1="48.20" y1="343.67" x2="49.20" y2="343.67" stroke="#333" stroke-width="0.8"/>
<line x1="48.20" y1="342.20" x2="49.20" y2="342.20" stroke="#333" stroke-width="0.8"/>
<line x1="48.20" y1="340.96" x2="49.20" y2="340.96" stroke="#333" stroke-width="0.8"/>
<line x1="48.20" y1="339.88" x2="49.20" y2="339.88" stroke="#333" stroke-width="0.8"/>
<line x1="48.20" y1="338.93" x2="49.20" y2="338.93" stroke="#333" stroke-width="0.8"/>
<line x1="48.20" y1="332.49" x2="49.20" y2="332.49" stroke="#333" stroke-width="0.8"/>
<line x1="48.20" y1="329.22" x2="49.20" y2="329.22" stroke="#333" stroke-width="0.8"/>
<line x1="48.20" y1="326.89" x2="49.20" y2="326.89" stroke="#333" stroke-width="0.8"/>
<line x1="48.20" y1="325.09" x2="49.20" y2="325.09" stroke="#333" stroke-width="0.8"/>
<line x1="48.20" y1="323.62" x2="49.20" y2="323.62" stroke="#333" stroke-width="0.8"/>
<line x1="48.20" y1="322.38" x2="49.20" y2="322.38" stroke="#333" stroke-width="0.8"/>
<line x1="48.20" y1="321.30" x2="49.20" y2="321.30" stroke="#333" stroke-width="0.8"/>
<line x1="48.20" y1="320.35" x2="49.20" y2="320.35" stroke="#333" stroke-width="0.8"/>
<text transform="translate(46.93,423.80) scale(1.123,1)" font-family="Liberation Sans" font-weight="bold" font-style="normal" font-size="7.59" fill="#000" stroke="#000" stroke-width="0.25">0</text>
<line x1="49.30" y1="412.50" x2="49.30" y2="414.50" stroke="#444" stroke-width="0.8"/>
<text transform="translate(59.09,423.80) scale(1.123,1)" font-family="Liberation Sans" font-weight="bold" font-style="normal" font-size="7.59" fill="#000" stroke="#000" stroke-width="0.25">2</text>
<line x1="61.46" y1="412.50" x2="61.46" y2="414.50" stroke="#444" stroke-width="0.8"/>
<text transform="translate(71.25,423.80) scale(1.123,1)" font-family="Liberation Sans" font-weight="bold" font-style="normal" font-size="7.59" fill="#000" stroke="#000" stroke-width="0.25">4</text>
<line x1="73.62" y1="412.50" x2="73.62" y2="414.50" stroke="#444" stroke-width="0.8"/>
<text transform="translate(83.41,423.80) scale(1.123,1)" font-family="Liberation Sans" font-weight="bold" font-style="normal" font-size="7.59" fill="#000" stroke="#000" stroke-width="0.25">6</text>
<line x1="85.78" y1="412.50" x2="85.78" y2="414.50" stroke="#444" stroke-width="0.8"/>
<text transform="translate(95.57,423.80) scale(1.123,1)" font-family="Liberation Sans" font-weight="bold" font-style="normal" font-size="7.59" fill="#000" stroke="#000" stroke-width="0.25">8</text>
<line x1="97.94" y1="412.50" x2="97.94" y2="414.50" stroke="#444" stroke-width="0.8"/>
<text transform="translate(105.36,423.80) scale(1.123,1)" font-family="Liberation Sans" font-weight="bold" font-style="normal" font-size="7.59" fill="#000" stroke="#000" stroke-width="0.25">10</text>
<line x1="110.10" y1="412.50" x2="110.10" y2="414.50" stroke="#444" stroke-width="0.8"/>
<text transform="translate(117.52,423.80) scale(1.123,1)" font-family="Liberation Sans" font-weight="bold" font-style="normal" font-size="7.59" fill="#000" stroke="#000" stroke-width="0.25">12</text>
<line x1="122.26" y1="412.50" x2="122.26" y2="414.50" stroke="#444" stroke-width="0.8"/>
<text transform="translate(129.68,423.80) scale(1.123,1)" font-family="Liberation Sans" font-weight="bold" font-style="normal" font-size="7.59" fill="#000" stroke="#000" stroke-width="0.25">14</text>
<line x1="134.42" y1="412.50" x2="134.42" y2="414.50" stroke="#444" stroke-width="0.8"/>
<text transform="translate(141.84,423.80) scale(1.123,1)" font-family="Liberation Sans" font-weight="bold" font-style="normal" font-size="7.59" fill="#000" stroke="#000" stroke-width="0.25">16</text>
<line x1="146.58" y1="412.50" x2="146.58" y2="414.50" stroke="#444" stroke-width="0.8"/>
<text transform="translate(154.00,423.80) scale(1.123,1)" font-family="Liberation Sans" font-weight="bold" font-style="normal" font-size="7.59" fill="#000" stroke="#000" stroke-width="0.25">18</text>
<line x1="158.74" y1="412.50" x2="158.74" y2="414.50" stroke="#444" stroke-width="0.8"/>
<text transform="translate(166.16,423.80) scale(1.123,1)" font-family="Liberation Sans" font-weight="bold" font-style="normal" font-size="7.59" fill="#000" stroke="#000" stroke-width="0.25">20</text>
<line x1="170.90" y1="412.50" x2="170.90" y2="414.50" stroke="#444" stroke-width="0.8"/>
<polyline points="49.30,412.40 61.46,407.22 73.62,397.05 85.78,337.69 104.02,329.77 122.26,348.95 140.50,360.01 170.90,362.75" fill="none" stroke="#333" stroke-width="1.0" stroke-linejoin="round"/>
<rect x="48.40" y="411.50" width="1.80" height="1.80" fill="#333"/>
<rect x="60.56" y="406.32" width="1.80" height="1.80" fill="#333"/>
<rect x="72.72" y="396.15" width="1.80" height="1.80" fill="#333"/>
<rect x="84.88" y="336.79" width="1.80" height="1.80" fill="#333"/>
<rect x="103.12" y="328.87" width="1.80" height="1.80" fill="#333"/>
<rect x="121.36" y="348.05" width="1.80" height="1.80" fill="#333"/>
<rect x="139.60" y="359.11" width="1.80" height="1.80" fill="#333"/>
<rect x="170.00" y="361.85" width="1.80" height="1.80" fill="#333"/>
<text transform="translate(124.47,337.90) scale(1.113,1)" font-family="Liberation Sans" font-weight="bold" font-style="italic" font-size="9.46" fill="#222" stroke="#222" stroke-width="0.25">SCL/TAL1</text>
<text transform="translate(7.52,417.10) rotate(-90) scale(0.903,1)" font-family="Liberation Sans" font-weight="bold" font-style="normal" font-size="8.33" fill="#000" stroke="#000" stroke-width="0.25">FOLD CHANGE EXPRESSION</text>
<text transform="translate(16.02,433.00) rotate(-90) scale(0.902,1)" font-family="Liberation Sans" font-weight="bold" font-style="normal" font-size="8.31" fill="#000" stroke="#000" stroke-width="0.25">FROM UNDIFFERENTIATED hESC</text>
<line x1="209.30" y1="319.40" x2="337.90" y2="319.40" stroke="#777" stroke-width="1.1"/>
<line x1="337.90" y1="319.40" x2="337.90" y2="411.20" stroke="#777" stroke-width="1.1"/>
<line x1="209.30" y1="411.20" x2="337.90" y2="411.20" stroke="#333" stroke-width="1.0"/>
<line x1="209.30" y1="319.40" x2="209.30" y2="411.20" stroke="#333" stroke-width="1.0"/>
<text transform="translate(188.80,413.90) scale(1.058,1)" font-family="Liberation Sans" font-weight="bold" font-style="normal" font-size="7.74" fill="#000" stroke="#000" stroke-width="0.25">0.01</text>
<line x1="207.50" y1="411.20" x2="209.30" y2="411.20" stroke="#333" stroke-width="0.8"/>
<text transform="translate(193.35,383.30) scale(1.058,1)" font-family="Liberation Sans" font-weight="bold" font-style="normal" font-size="7.74" fill="#000" stroke="#000" stroke-width="0.25">0.1</text>
<line x1="207.50" y1="380.60" x2="209.30" y2="380.60" stroke="#333" stroke-width="0.8"/>
<text transform="translate(200.18,352.70) scale(1.058,1)" font-family="Liberation Sans" font-weight="bold" font-style="normal" font-size="7.74" fill="#000" stroke="#000" stroke-width="0.25">1</text>
<line x1="207.50" y1="350.00" x2="209.30" y2="350.00" stroke="#333" stroke-width="0.8"/>
<text transform="translate(195.73,322.10) scale(1.058,1)" font-family="Liberation Sans" font-weight="bold" font-style="normal" font-size="7.74" fill="#000" stroke="#000" stroke-width="0.25">10</text>
<line x1="207.50" y1="319.40" x2="209.30" y2="319.40" stroke="#333" stroke-width="0.8"/>
<line x1="208.00" y1="401.99" x2="209.30" y2="401.99" stroke="#333" stroke-width="0.8"/>
<line x1="208.00" y1="396.60" x2="209.30" y2="396.60" stroke="#333" stroke-width="0.8"/>
<line x1="208.00" y1="392.78" x2="209.30" y2="392.78" stroke="#333" stroke-width="0.8"/>
<line x1="208.00" y1="389.81" x2="209.30" y2="389.81" stroke="#333" stroke-width="0.8"/>
<line x1="208.00" y1="387.39" x2="209.30" y2="387.39" stroke="#333" stroke-width="0.8"/>
<line x1="208.00" y1="385.34" x2="209.30" y2="385.34" stroke="#333" stroke-width="0.8"/>
<line x1="208.00" y1="383.57" x2="209.30" y2="383.57" stroke="#333" stroke-width="0.8"/>
<line x1="208.00" y1="382.00" x2="209.30" y2="382.00" stroke="#333" stroke-width="0.8"/>
<line x1="208.00" y1="371.39" x2="209.30" y2="371.39" stroke="#333" stroke-width="0.8"/>
<line x1="208.00" y1="366.00" x2="209.30" y2="366.00" stroke="#333" stroke-width="0.8"/>
<line x1="208.00" y1="362.18" x2="209.30" y2="362.18" stroke="#333" stroke-width="0.8"/>
<line x1="208.00" y1="359.21" x2="209.30" y2="359.21" stroke="#333" stroke-width="0.8"/>
<line x1="208.00" y1="356.79" x2="209.30" y2="356.79" stroke="#333" stroke-width="0.8"/>
<line x1="208.00" y1="354.74" x2="209.30" y2="354.74" stroke="#333" stroke-width="0.8"/>
<line x1="208.00" y1="352.97" x2="209.30" y2="352.97" stroke="#333" stroke-width="0.8"/>
<line x1="208.00" y1="351.40" x2="209.30" y2="351.40" stroke="#333" stroke-width="0.8"/>
<line x1="208.00" y1="340.79" x2="209.30" y2="340.79" stroke="#333" stroke-width="0.8"/>
<line x1="208.00" y1="335.40" x2="209.30" y2="335.40" stroke="#333" stroke-width="0.8"/>
<line x1="208.00" y1="331.58" x2="209.30" y2="331.58" stroke="#333" stroke-width="0.8"/>
<line x1="208.00" y1="328.61" x2="209.30" y2="328.61" stroke="#333" stroke-width="0.8"/>
<line x1="208.00" y1="326.19" x2="209.30" y2="326.19" stroke="#333" stroke-width="0.8"/>
<line x1="208.00" y1="324.14" x2="209.30" y2="324.14" stroke="#333" stroke-width="0.8"/>
<line x1="208.00" y1="322.37" x2="209.30" y2="322.37" stroke="#333" stroke-width="0.8"/>
<line x1="208.00" y1="320.80" x2="209.30" y2="320.80" stroke="#333" stroke-width="0.8"/>
<text transform="translate(207.60,422.50) scale(1.115,1)" font-family="Liberation Sans" font-weight="bold" font-style="normal" font-size="7.74" fill="#000" stroke="#000" stroke-width="0.25">0</text>
<line x1="210.00" y1="411.50" x2="210.00" y2="413.50" stroke="#444" stroke-width="0.8"/>
<text transform="translate(219.96,422.50) scale(1.115,1)" font-family="Liberation Sans" font-weight="bold" font-style="normal" font-size="7.74" fill="#000" stroke="#000" stroke-width="0.25">2</text>
<line x1="222.36" y1="411.50" x2="222.36" y2="413.50" stroke="#444" stroke-width="0.8"/>
<text transform="translate(232.32,422.50) scale(1.115,1)" font-family="Liberation Sans" font-weight="bold" font-style="normal" font-size="7.74" fill="#000" stroke="#000" stroke-width="0.25">4</text>
<line x1="234.72" y1="411.50" x2="234.72" y2="413.50" stroke="#444" stroke-width="0.8"/>
<text transform="translate(244.68,422.50) scale(1.115,1)" font-family="Liberation Sans" font-weight="bold" font-style="normal" font-size="7.74" fill="#000" stroke="#000" stroke-width="0.25">6</text>
<line x1="247.08" y1="411.50" x2="247.08" y2="413.50" stroke="#444" stroke-width="0.8"/>
<text transform="translate(257.04,422.50) scale(1.115,1)" font-family="Liberation Sans" font-weight="bold" font-style="normal" font-size="7.74" fill="#000" stroke="#000" stroke-width="0.25">8</text>
<line x1="259.44" y1="411.50" x2="259.44" y2="413.50" stroke="#444" stroke-width="0.8"/>
<text transform="translate(267.00,422.50) scale(1.115,1)" font-family="Liberation Sans" font-weight="bold" font-style="normal" font-size="7.74" fill="#000" stroke="#000" stroke-width="0.25">10</text>
<line x1="271.80" y1="411.50" x2="271.80" y2="413.50" stroke="#444" stroke-width="0.8"/>
<text transform="translate(279.36,422.50) scale(1.115,1)" font-family="Liberation Sans" font-weight="bold" font-style="normal" font-size="7.74" fill="#000" stroke="#000" stroke-width="0.25">12</text>
<line x1="284.16" y1="411.50" x2="284.16" y2="413.50" stroke="#444" stroke-width="0.8"/>
<text transform="translate(291.72,422.50) scale(1.115,1)" font-family="Liberation Sans" font-weight="bold" font-style="normal" font-size="7.74" fill="#000" stroke="#000" stroke-width="0.25">14</text>
<line x1="296.52" y1="411.50" x2="296.52" y2="413.50" stroke="#444" stroke-width="0.8"/>
<text transform="translate(304.08,422.50) scale(1.115,1)" font-family="Liberation Sans" font-weight="bold" font-style="normal" font-size="7.74" fill="#000" stroke="#000" stroke-width="0.25">16</text>
<line x1="308.88" y1="411.50" x2="308.88" y2="413.50" stroke="#444" stroke-width="0.8"/>
<text transform="translate(316.44,422.50) scale(1.115,1)" font-family="Liberation Sans" font-weight="bold" font-style="normal" font-size="7.74" fill="#000" stroke="#000" stroke-width="0.25">18</text>
<line x1="321.24" y1="411.50" x2="321.24" y2="413.50" stroke="#444" stroke-width="0.8"/>
<text transform="translate(328.80,422.50) scale(1.115,1)" font-family="Liberation Sans" font-weight="bold" font-style="normal" font-size="7.74" fill="#000" stroke="#000" stroke-width="0.25">20</text>
<line x1="333.60" y1="411.50" x2="333.60" y2="413.50" stroke="#444" stroke-width="0.8"/>
<line x1="210.00" y1="352.97" x2="210.00" y2="348.73" stroke="#999" stroke-width="0.7"/>
<line x1="208.80" y1="352.97" x2="211.20" y2="352.97" stroke="#999" stroke-width="0.7"/>
<line x1="208.80" y1="348.73" x2="211.20" y2="348.73" stroke="#999" stroke-width="0.7"/>
<line x1="222.36" y1="407.71" x2="222.36" y2="394.55" stroke="#999" stroke-width="0.7"/>
<line x1="221.16" y1="407.71" x2="223.56" y2="407.71" stroke="#999" stroke-width="0.7"/>
<line x1="221.16" y1="394.55" x2="223.56" y2="394.55" stroke="#999" stroke-width="0.7"/>
<line x1="234.72" y1="406.73" x2="234.72" y2="394.55" stroke="#999" stroke-width="0.7"/>
<line x1="233.52" y1="406.73" x2="235.92" y2="406.73" stroke="#999" stroke-width="0.7"/>
<line x1="233.52" y1="394.55" x2="235.92" y2="394.55" stroke="#999" stroke-width="0.7"/>
<line x1="247.08" y1="383.57" x2="247.08" y2="379.33" stroke="#999" stroke-width="0.7"/>
<line x1="245.88" y1="383.57" x2="248.28" y2="383.57" stroke="#999" stroke-width="0.7"/>
<line x1="245.88" y1="379.33" x2="248.28" y2="379.33" stroke="#999" stroke-width="0.7"/>
<line x1="284.16" y1="391.21" x2="284.16" y2="383.57" stroke="#999" stroke-width="0.7"/>
<line x1="282.96" y1="391.21" x2="285.36" y2="391.21" stroke="#999" stroke-width="0.7"/>
<line x1="282.96" y1="383.57" x2="285.36" y2="383.57" stroke="#999" stroke-width="0.7"/>
<line x1="302.70" y1="401.99" x2="302.70" y2="387.39" stroke="#999" stroke-width="0.7"/>
<line x1="301.50" y1="401.99" x2="303.90" y2="401.99" stroke="#999" stroke-width="0.7"/>
<line x1="301.50" y1="387.39" x2="303.90" y2="387.39" stroke="#999" stroke-width="0.7"/>
<line x1="333.60" y1="401.99" x2="333.60" y2="392.78" stroke="#999" stroke-width="0.7"/>
<line x1="332.40" y1="401.99" x2="334.80" y2="401.99" stroke="#999" stroke-width="0.7"/>
<line x1="332.40" y1="392.78" x2="334.80" y2="392.78" stroke="#999" stroke-width="0.7"/>
<polyline points="210.00,350.68 222.36,407.11 234.72,406.17 247.08,381.28 265.62,346.51 284.16,386.74 302.70,392.45 333.60,401.99" fill="none" stroke="#222" stroke-width="1.0" stroke-linejoin="round"/>
<rect x="209.10" y="349.78" width="1.80" height="1.80" fill="#222"/>
<rect x="221.46" y="406.21" width="1.80" height="1.80" fill="#222"/>
<rect x="233.82" y="405.27" width="1.80" height="1.80" fill="#222"/>
<rect x="246.18" y="380.38" width="1.80" height="1.80" fill="#222"/>
<rect x="264.72" y="345.61" width="1.80" height="1.80" fill="#222"/>
<rect x="283.26" y="385.84" width="1.80" height="1.80" fill="#222"/>
<rect x="301.80" y="391.55" width="1.80" height="1.80" fill="#222"/>
<rect x="332.70" y="401.09" width="1.80" height="1.80" fill="#222"/>
<text transform="translate(290.62,351.00) scale(1.150,1)" font-family="Liberation Sans" font-weight="bold" font-style="italic" font-size="12.03" fill="#222" stroke="#222" stroke-width="0.25">CDX4</text>
<line x1="381.50" y1="319.50" x2="510.20" y2="319.50" stroke="#777" stroke-width="1.1"/>
<line x1="510.20" y1="319.50" x2="510.20" y2="411.20" stroke="#777" stroke-width="1.1"/>
<line x1="381.50" y1="411.20" x2="510.20" y2="411.20" stroke="#333" stroke-width="1.0"/>
<line x1="381.50" y1="319.50" x2="381.50" y2="411.20" stroke="#333" stroke-width="1.0"/>
<text transform="translate(371.63,413.20) scale(1.475,1)" font-family="Liberation Sans" font-weight="bold" font-style="normal" font-size="5.73" fill="#000" stroke="#000" stroke-width="0.25">1</text>
<line x1="379.70" y1="411.20" x2="381.50" y2="411.20" stroke="#333" stroke-width="0.8"/>
<text transform="translate(367.04,390.27) scale(1.475,1)" font-family="Liberation Sans" font-weight="bold" font-style="normal" font-size="5.73" fill="#000" stroke="#000" stroke-width="0.25">10</text>
<line x1="379.70" y1="388.27" x2="381.50" y2="388.27" stroke="#333" stroke-width="0.8"/>
<text transform="translate(362.34,367.35) scale(1.475,1)" font-family="Liberation Sans" font-weight="bold" font-style="normal" font-size="5.73" fill="#000" stroke="#000" stroke-width="0.25">100</text>
<line x1="379.70" y1="365.35" x2="381.50" y2="365.35" stroke="#333" stroke-width="0.8"/>
<text transform="translate(357.64,344.43) scale(1.475,1)" font-family="Liberation Sans" font-weight="bold" font-style="normal" font-size="5.73" fill="#000" stroke="#000" stroke-width="0.25">1000</text>
<line x1="379.70" y1="342.43" x2="381.50" y2="342.43" stroke="#333" stroke-width="0.8"/>
<text transform="translate(352.94,321.50) scale(1.475,1)" font-family="Liberation Sans" font-weight="bold" font-style="normal" font-size="5.73" fill="#000" stroke="#000" stroke-width="0.25">10000</text>
<line x1="379.70" y1="319.50" x2="381.50" y2="319.50" stroke="#333" stroke-width="0.8"/>
<line x1="380.30" y1="404.30" x2="381.50" y2="404.30" stroke="#333" stroke-width="0.8"/>
<line x1="380.30" y1="400.26" x2="381.50" y2="400.26" stroke="#333" stroke-width="0.8"/>
<line x1="380.30" y1="397.40" x2="381.50" y2="397.40" stroke="#333" stroke-width="0.8"/>
<line x1="380.30" y1="395.18" x2="381.50" y2="395.18" stroke="#333" stroke-width="0.8"/>
<line x1="380.30" y1="393.36" x2="381.50" y2="393.36" stroke="#333" stroke-width="0.8"/>
<line x1="380.30" y1="391.83" x2="381.50" y2="391.83" stroke="#333" stroke-width="0.8"/>
<line x1="380.30" y1="390.50" x2="381.50" y2="390.50" stroke="#333" stroke-width="0.8"/>
<line x1="380.30" y1="389.32" x2="381.50" y2="389.32" stroke="#333" stroke-width="0.8"/>
<line x1="380.30" y1="381.37" x2="381.50" y2="381.37" stroke="#333" stroke-width="0.8"/>
<line x1="380.30" y1="377.34" x2="381.50" y2="377.34" stroke="#333" stroke-width="0.8"/>
<line x1="380.30" y1="374.47" x2="381.50" y2="374.47" stroke="#333" stroke-width="0.8"/>
<line x1="380.30" y1="372.25" x2="381.50" y2="372.25" stroke="#333" stroke-width="0.8"/>
<line x1="380.30" y1="370.44" x2="381.50" y2="370.44" stroke="#333" stroke-width="0.8"/>
<line x1="380.30" y1="368.90" x2="381.50" y2="368.90" stroke="#333" stroke-width="0.8"/>
<line x1="380.30" y1="367.57" x2="381.50" y2="367.57" stroke="#333" stroke-width="0.8"/>
<line x1="380.30" y1="366.40" x2="381.50" y2="366.40" stroke="#333" stroke-width="0.8"/>
<line x1="380.30" y1="358.45" x2="381.50" y2="358.45" stroke="#333" stroke-width="0.8"/>
<line x1="380.30" y1="354.41" x2="381.50" y2="354.41" stroke="#333" stroke-width="0.8"/>
<line x1="380.30" y1="351.55" x2="381.50" y2="351.55" stroke="#333" stroke-width="0.8"/>
<line x1="380.30" y1="349.33" x2="381.50" y2="349.33" stroke="#333" stroke-width="0.8"/>
<line x1="380.30" y1="347.51" x2="381.50" y2="347.51" stroke="#333" stroke-width="0.8"/>
<line x1="380.30" y1="345.98" x2="381.50" y2="345.98" stroke="#333" stroke-width="0.8"/>
<line x1="380.30" y1="344.65" x2="381.50" y2="344.65" stroke="#333" stroke-width="0.8"/>
<line x1="380.30" y1="343.47" x2="381.50" y2="343.47" stroke="#333" stroke-width="0.8"/>
<line x1="380.30" y1="335.52" x2="381.50" y2="335.52" stroke="#333" stroke-width="0.8"/>
<line x1="380.30" y1="331.49" x2="381.50" y2="331.49" stroke="#333" stroke-width="0.8"/>
<line x1="380.30" y1="328.62" x2="381.50" y2="328.62" stroke="#333" stroke-width="0.8"/>
<line x1="380.30" y1="326.40" x2="381.50" y2="326.40" stroke="#333" stroke-width="0.8"/>
<line x1="380.30" y1="324.59" x2="381.50" y2="324.59" stroke="#333" stroke-width="0.8"/>
<line x1="380.30" y1="323.05" x2="381.50" y2="323.05" stroke="#333" stroke-width="0.8"/>
<line x1="380.30" y1="321.72" x2="381.50" y2="321.72" stroke="#333" stroke-width="0.8"/>
<line x1="380.30" y1="320.55" x2="381.50" y2="320.55" stroke="#333" stroke-width="0.8"/>
<text transform="translate(379.37,421.70) scale(1.078,1)" font-family="Liberation Sans" font-weight="bold" font-style="normal" font-size="7.45" fill="#000" stroke="#000" stroke-width="0.25">0</text>
<line x1="381.60" y1="411.20" x2="381.60" y2="413.20" stroke="#444" stroke-width="0.8"/>
<text transform="translate(391.57,421.70) scale(1.078,1)" font-family="Liberation Sans" font-weight="bold" font-style="normal" font-size="7.45" fill="#000" stroke="#000" stroke-width="0.25">2</text>
<line x1="393.80" y1="411.20" x2="393.80" y2="413.20" stroke="#444" stroke-width="0.8"/>
<text transform="translate(403.77,421.70) scale(1.078,1)" font-family="Liberation Sans" font-weight="bold" font-style="normal" font-size="7.45" fill="#000" stroke="#000" stroke-width="0.25">4</text>
<line x1="406.00" y1="411.20" x2="406.00" y2="413.20" stroke="#444" stroke-width="0.8"/>
<text transform="translate(415.97,421.70) scale(1.078,1)" font-family="Liberation Sans" font-weight="bold" font-style="normal" font-size="7.45" fill="#000" stroke="#000" stroke-width="0.25">6</text>
<line x1="418.20" y1="411.20" x2="418.20" y2="413.20" stroke="#444" stroke-width="0.8"/>
<text transform="translate(428.17,421.70) scale(1.078,1)" font-family="Liberation Sans" font-weight="bold" font-style="normal" font-size="7.45" fill="#000" stroke="#000" stroke-width="0.25">8</text>
<line x1="430.40" y1="411.20" x2="430.40" y2="413.20" stroke="#444" stroke-width="0.8"/>
<text transform="translate(438.13,421.70) scale(1.078,1)" font-family="Liberation Sans" font-weight="bold" font-style="normal" font-size="7.45" fill="#000" stroke="#000" stroke-width="0.25">10</text>
<line x1="442.60" y1="411.20" x2="442.60" y2="413.20" stroke="#444" stroke-width="0.8"/>
<text transform="translate(450.33,421.70) scale(1.078,1)" font-family="Liberation Sans" font-weight="bold" font-style="normal" font-size="7.45" fill="#000" stroke="#000" stroke-width="0.25">12</text>
<line x1="454.80" y1="411.20" x2="454.80" y2="413.20" stroke="#444" stroke-width="0.8"/>
<text transform="translate(462.53,421.70) scale(1.078,1)" font-family="Liberation Sans" font-weight="bold" font-style="normal" font-size="7.45" fill="#000" stroke="#000" stroke-width="0.25">14</text>
<line x1="467.00" y1="411.20" x2="467.00" y2="413.20" stroke="#444" stroke-width="0.8"/>
<text transform="translate(474.73,421.70) scale(1.078,1)" font-family="Liberation Sans" font-weight="bold" font-style="normal" font-size="7.45" fill="#000" stroke="#000" stroke-width="0.25">16</text>
<line x1="479.20" y1="411.20" x2="479.20" y2="413.20" stroke="#444" stroke-width="0.8"/>
<text transform="translate(486.93,421.70) scale(1.078,1)" font-family="Liberation Sans" font-weight="bold" font-style="normal" font-size="7.45" fill="#000" stroke="#000" stroke-width="0.25">18</text>
<line x1="491.40" y1="411.20" x2="491.40" y2="413.20" stroke="#444" stroke-width="0.8"/>
<text transform="translate(499.13,421.70) scale(1.078,1)" font-family="Liberation Sans" font-weight="bold" font-style="normal" font-size="7.45" fill="#000" stroke="#000" stroke-width="0.25">20</text>
<line x1="503.60" y1="411.20" x2="503.60" y2="413.20" stroke="#444" stroke-width="0.8"/>
<polyline points="381.60,411.20 393.80,388.08 406.00,378.39 418.20,355.84 436.50,333.71 454.80,352.60 473.10,356.43 503.60,353.62" fill="none" stroke="#222" stroke-width="1.0" stroke-linejoin="round"/>
<rect x="380.70" y="410.30" width="1.80" height="1.80" fill="#222"/>
<rect x="392.90" y="387.18" width="1.80" height="1.80" fill="#222"/>
<rect x="405.10" y="377.49" width="1.80" height="1.80" fill="#222"/>
<rect x="417.30" y="354.94" width="1.80" height="1.80" fill="#222"/>
<rect x="435.60" y="332.81" width="1.80" height="1.80" fill="#222"/>
<rect x="453.90" y="351.70" width="1.80" height="1.80" fill="#222"/>
<rect x="472.20" y="355.53" width="1.80" height="1.80" fill="#222"/>
<rect x="502.70" y="352.72" width="1.80" height="1.80" fill="#222"/>
<polyline points="381.60,411.20 393.80,400.26 406.00,399.62 418.20,391.01 436.50,373.30 454.80,385.51 473.10,387.06 503.60,411.20" fill="none" stroke="#777" stroke-width="1.0" stroke-linejoin="round"/>
<rect x="380.70" y="410.30" width="1.80" height="1.80" fill="#777"/>
<rect x="392.90" y="399.36" width="1.80" height="1.80" fill="#777"/>
<rect x="405.10" y="398.72" width="1.80" height="1.80" fill="#777"/>
<rect x="417.30" y="390.11" width="1.80" height="1.80" fill="#777"/>
<rect x="435.60" y="372.40" width="1.80" height="1.80" fill="#777"/>
<rect x="453.90" y="384.61" width="1.80" height="1.80" fill="#777"/>
<rect x="472.20" y="386.16" width="1.80" height="1.80" fill="#777"/>
<rect x="502.70" y="410.30" width="1.80" height="1.80" fill="#777"/>
<text transform="translate(460.41,345.90) scale(1.164,1)" font-family="Liberation Sans" font-weight="bold" font-style="italic" font-size="10.32" fill="#444" stroke="#444" stroke-width="0.25">GATA2</text>
<text transform="translate(452.42,380.80) scale(1.067,1)" font-family="Liberation Sans" font-weight="bold" font-style="italic" font-size="11.17" fill="#888" stroke="#888" stroke-width="0.25">GATA1</text>
<text transform="translate(178.27,445.00) scale(0.921,1)" font-family="Liberation Serif" font-weight="bold" font-style="normal" font-size="14.50" fill="#000" stroke="#000" stroke-width="0.3">DAYS hEB DEVELOPMENT</text>
<text transform="translate(91.49,472.50) scale(1.027,1)" font-family="Liberation Serif" font-weight="bold" font-style="normal" font-size="11.63" fill="#000" stroke="#000" stroke-width="0.25">DAYS</text>
<line x1="91.70" y1="474.50" x2="123.50" y2="474.50" stroke="#000" stroke-width="1.1"/>
<text transform="translate(62.27,485.00) scale(1.000,1)" font-family="Liberation Serif" font-weight="bold" font-style="normal" font-size="10.12" fill="#000" stroke="#000" stroke-width="0.25">0</text>
<text transform="translate(73.77,485.00) scale(1.000,1)" font-family="Liberation Serif" font-weight="bold" font-style="normal" font-size="10.12" fill="#000" stroke="#000" stroke-width="0.25">2</text>
<text transform="translate(84.37,485.00) scale(1.000,1)" font-family="Liberation Serif" font-weight="bold" font-style="normal" font-size="10.12" fill="#000" stroke="#000" stroke-width="0.25">4</text>
<text transform="translate(94.57,485.00) scale(1.000,1)" font-family="Liberation Serif" font-weight="bold" font-style="normal" font-size="10.12" fill="#000" stroke="#000" stroke-width="0.25">6</text>
<text transform="translate(104.97,485.00) scale(1.000,1)" font-family="Liberation Serif" font-weight="bold" font-style="normal" font-size="10.12" fill="#000" stroke="#000" stroke-width="0.25">9</text>
<text transform="translate(116.14,485.00) scale(1.000,1)" font-family="Liberation Serif" font-weight="bold" font-style="normal" font-size="10.12" fill="#000" stroke="#000" stroke-width="0.25">12</text>
<text transform="translate(128.94,485.00) scale(1.000,1)" font-family="Liberation Serif" font-weight="bold" font-style="normal" font-size="10.12" fill="#000" stroke="#000" stroke-width="0.25">15</text>
<text transform="translate(142.44,485.00) scale(1.000,1)" font-family="Liberation Serif" font-weight="bold" font-style="normal" font-size="10.12" fill="#000" stroke="#000" stroke-width="0.25">20</text>
<rect x="58.60" y="488.00" width="95.40" height="17.60" fill="#1c1c1c"/>
<ellipse cx="101.40" cy="496.10" rx="3.94" ry="2.08" fill="rgba(255,255,255,0.60)" filter="url(#bl)"/>
<ellipse cx="101.40" cy="496.10" rx="2.68" ry="1.25" fill="rgba(255,255,255,1.00)" filter="url(#bl)"/>
<ellipse cx="112.60" cy="495.20" rx="3.68" ry="1.69" fill="rgba(255,255,255,0.30)" filter="url(#bl)"/>
<ellipse cx="112.60" cy="495.20" rx="2.50" ry="1.01" fill="rgba(255,255,255,0.50)" filter="url(#bl)"/>
<ellipse cx="124.10" cy="495.20" rx="3.68" ry="1.69" fill="rgba(255,255,255,0.48)" filter="url(#bl)"/>
<ellipse cx="124.10" cy="495.20" rx="2.50" ry="1.01" fill="rgba(255,255,255,0.80)" filter="url(#bl)"/>
<ellipse cx="135.80" cy="495.20" rx="3.68" ry="1.69" fill="rgba(255,255,255,0.36)" filter="url(#bl)"/>
<ellipse cx="135.80" cy="495.20" rx="2.50" ry="1.01" fill="rgba(255,255,255,0.60)" filter="url(#bl)"/>
<rect x="58.60" y="512.90" width="95.40" height="10.50" fill="#111"/>
<ellipse cx="64.70" cy="519.00" rx="3.68" ry="1.69" fill="rgba(255,255,255,0.55)" filter="url(#bl)"/>
<ellipse cx="64.70" cy="519.00" rx="2.50" ry="1.01" fill="rgba(255,255,255,0.92)" filter="url(#bl)"/>
<ellipse cx="76.20" cy="519.00" rx="3.68" ry="1.69" fill="rgba(255,255,255,0.55)" filter="url(#bl)"/>
<ellipse cx="76.20" cy="519.00" rx="2.50" ry="1.01" fill="rgba(255,255,255,0.92)" filter="url(#bl)"/>
<ellipse cx="87.70" cy="519.00" rx="3.68" ry="1.69" fill="rgba(255,255,255,0.55)" filter="url(#bl)"/>
<ellipse cx="87.70" cy="519.00" rx="2.50" ry="1.01" fill="rgba(255,255,255,0.92)" filter="url(#bl)"/>
<ellipse cx="99.80" cy="519.00" rx="3.68" ry="1.69" fill="rgba(255,255,255,0.55)" filter="url(#bl)"/>
<ellipse cx="99.80" cy="519.00" rx="2.50" ry="1.01" fill="rgba(255,255,255,0.92)" filter="url(#bl)"/>
<ellipse cx="111.10" cy="519.00" rx="3.68" ry="1.69" fill="rgba(255,255,255,0.55)" filter="url(#bl)"/>
<ellipse cx="111.10" cy="519.00" rx="2.50" ry="1.01" fill="rgba(255,255,255,0.92)" filter="url(#bl)"/>
<ellipse cx="122.60" cy="519.00" rx="3.68" ry="1.69" fill="rgba(255,255,255,0.55)" filter="url(#bl)"/>
<ellipse cx="122.60" cy="519.00" rx="2.50" ry="1.01" fill="rgba(255,255,255,0.92)" filter="url(#bl)"/>
<ellipse cx="133.80" cy="519.00" rx="3.68" ry="1.69" fill="rgba(255,255,255,0.55)" filter="url(#bl)"/>
<ellipse cx="133.80" cy="519.00" rx="2.50" ry="1.01" fill="rgba(255,255,255,0.92)" filter="url(#bl)"/>
<ellipse cx="145.90" cy="519.00" rx="3.68" ry="1.69" fill="rgba(255,255,255,0.55)" filter="url(#bl)"/>
<ellipse cx="145.90" cy="519.00" rx="2.50" ry="1.01" fill="rgba(255,255,255,0.92)" filter="url(#bl)"/>
<text transform="translate(12.62,500.60) scale(1.005,1)" font-family="Liberation Sans" font-weight="bold" font-style="italic" font-size="15.90" fill="#333" stroke="#333" stroke-width="0.1">EKLF</text>
<text transform="translate(23.44,521.29) scale(1.128,1)" font-family="Liberation Sans" font-weight="bold" font-style="italic" font-size="11.17" fill="#111" stroke="#111" stroke-width="0.25">actin</text>
<text transform="translate(271.59,472.50) scale(1.058,1)" font-family="Liberation Serif" font-weight="bold" font-style="normal" font-size="11.33" fill="#000" stroke="#000" stroke-width="0.25">DAYS</text>
<line x1="271.80" y1="474.50" x2="303.70" y2="474.50" stroke="#000" stroke-width="1.1"/>
<text transform="translate(241.01,485.20) scale(1.000,1)" font-family="Liberation Serif" font-weight="bold" font-style="normal" font-size="9.97" fill="#000" stroke="#000" stroke-width="0.25">0</text>
<text transform="translate(251.71,485.20) scale(1.000,1)" font-family="Liberation Serif" font-weight="bold" font-style="normal" font-size="9.97" fill="#000" stroke="#000" stroke-width="0.25">2</text>
<text transform="translate(262.41,485.20) scale(1.000,1)" font-family="Liberation Serif" font-weight="bold" font-style="normal" font-size="9.97" fill="#000" stroke="#000" stroke-width="0.25">4</text>
<text transform="translate(272.91,485.20) scale(1.000,1)" font-family="Liberation Serif" font-weight="bold" font-style="normal" font-size="9.97" fill="#000" stroke="#000" stroke-width="0.25">6</text>
<text transform="translate(284.01,485.20) scale(1.000,1)" font-family="Liberation Serif" font-weight="bold" font-style="normal" font-size="9.97" fill="#000" stroke="#000" stroke-width="0.25">9</text>
<text transform="translate(295.02,485.20) scale(1.000,1)" font-family="Liberation Serif" font-weight="bold" font-style="normal" font-size="9.97" fill="#000" stroke="#000" stroke-width="0.25">12</text>
<text transform="translate(309.22,485.20) scale(1.000,1)" font-family="Liberation Serif" font-weight="bold" font-style="normal" font-size="9.97" fill="#000" stroke="#000" stroke-width="0.25">15</text>
<text transform="translate(321.92,485.20) scale(1.000,1)" font-family="Liberation Serif" font-weight="bold" font-style="normal" font-size="9.97" fill="#000" stroke="#000" stroke-width="0.25">20</text>
<rect x="238.00" y="487.40" width="96.00" height="17.40" fill="#1a1a1a"/>
<ellipse cx="242.00" cy="494.20" rx="3.15" ry="1.56" fill="rgba(255,255,255,0.33)" filter="url(#bl)"/>
<ellipse cx="242.00" cy="494.20" rx="2.14" ry="0.94" fill="rgba(255,255,255,0.55)" filter="url(#bl)"/>
<ellipse cx="277.80" cy="496.10" rx="4.46" ry="2.73" fill="rgba(255,255,255,0.60)" filter="url(#bl)"/>
<ellipse cx="277.80" cy="496.10" rx="3.03" ry="1.64" fill="rgba(255,255,255,1.00)" filter="url(#bl)"/>
<ellipse cx="289.90" cy="494.20" rx="3.94" ry="1.82" fill="rgba(255,255,255,0.57)" filter="url(#bl)"/>
<ellipse cx="289.90" cy="494.20" rx="2.68" ry="1.09" fill="rgba(255,255,255,0.95)" filter="url(#bl)"/>
<ellipse cx="301.60" cy="494.20" rx="3.94" ry="1.82" fill="rgba(255,255,255,0.57)" filter="url(#bl)"/>
<ellipse cx="301.60" cy="494.20" rx="2.68" ry="1.09" fill="rgba(255,255,255,0.95)" filter="url(#bl)"/>
<ellipse cx="314.20" cy="494.20" rx="3.94" ry="1.82" fill="rgba(255,255,255,0.57)" filter="url(#bl)"/>
<ellipse cx="314.20" cy="494.20" rx="2.68" ry="1.09" fill="rgba(255,255,255,0.95)" filter="url(#bl)"/>
<ellipse cx="325.90" cy="494.20" rx="3.94" ry="1.82" fill="rgba(255,255,255,0.57)" filter="url(#bl)"/>
<ellipse cx="325.90" cy="494.20" rx="2.68" ry="1.09" fill="rgba(255,255,255,0.95)" filter="url(#bl)"/>
<rect x="238.00" y="512.30" width="96.00" height="11.10" fill="#111"/>
<ellipse cx="244.00" cy="518.30" rx="3.94" ry="1.69" fill="rgba(255,255,255,0.55)" filter="url(#bl)"/>
<ellipse cx="244.00" cy="518.30" rx="2.68" ry="1.01" fill="rgba(255,255,255,0.92)" filter="url(#bl)"/>
<ellipse cx="256.20" cy="518.30" rx="3.94" ry="1.69" fill="rgba(255,255,255,0.55)" filter="url(#bl)"/>
<ellipse cx="256.20" cy="518.30" rx="2.68" ry="1.01" fill="rgba(255,255,255,0.92)" filter="url(#bl)"/>
<ellipse cx="267.30" cy="518.30" rx="3.94" ry="1.69" fill="rgba(255,255,255,0.55)" filter="url(#bl)"/>
<ellipse cx="267.30" cy="518.30" rx="2.68" ry="1.01" fill="rgba(255,255,255,0.92)" filter="url(#bl)"/>
<ellipse cx="279.00" cy="518.30" rx="3.94" ry="1.69" fill="rgba(255,255,255,0.55)" filter="url(#bl)"/>
<ellipse cx="279.00" cy="518.30" rx="2.68" ry="1.01" fill="rgba(255,255,255,0.92)" filter="url(#bl)"/>
<ellipse cx="290.00" cy="518.30" rx="3.94" ry="1.69" fill="rgba(255,255,255,0.55)" filter="url(#bl)"/>
<ellipse cx="290.00" cy="518.30" rx="2.68" ry="1.01" fill="rgba(255,255,255,0.92)" filter="url(#bl)"/>
<ellipse cx="301.60" cy="518.30" rx="3.94" ry="1.69" fill="rgba(255,255,255,0.55)" filter="url(#bl)"/>
<ellipse cx="301.60" cy="518.30" rx="2.68" ry="1.01" fill="rgba(255,255,255,0.92)" filter="url(#bl)"/>
<ellipse cx="313.40" cy="518.30" rx="3.94" ry="1.69" fill="rgba(255,255,255,0.55)" filter="url(#bl)"/>
<ellipse cx="313.40" cy="518.30" rx="2.68" ry="1.01" fill="rgba(255,255,255,0.92)" filter="url(#bl)"/>
<ellipse cx="324.90" cy="518.30" rx="3.94" ry="1.69" fill="rgba(255,255,255,0.55)" filter="url(#bl)"/>
<ellipse cx="324.90" cy="518.30" rx="2.68" ry="1.01" fill="rgba(255,255,255,0.92)" filter="url(#bl)"/>
<text transform="translate(198.73,500.10) scale(1.004,1)" font-family="Liberation Sans" font-weight="bold" font-style="italic" font-size="15.19" fill="#3a3a3a" stroke="#3a3a3a" stroke-width="0.1">PU.1</text>
<text transform="translate(203.74,521.09) scale(1.116,1)" font-family="Liberation Sans" font-weight="bold" font-style="italic" font-size="11.44" fill="#111" stroke="#111" stroke-width="0.25">actin</text>
<line x1="39.80" y1="539.50" x2="172.00" y2="539.50" stroke="#777" stroke-width="1.1"/>
<line x1="172.00" y1="539.50" x2="172.00" y2="631.30" stroke="#777" stroke-width="1.1"/>
<line x1="39.80" y1="631.30" x2="172.00" y2="631.30" stroke="#333" stroke-width="1.0"/>
<line x1="39.80" y1="539.50" x2="39.80" y2="631.30" stroke="#333" stroke-width="1.0"/>
<text transform="translate(25.35,633.80) scale(1.142,1)" font-family="Liberation Sans" font-weight="bold" font-style="normal" font-size="7.16" fill="#000" stroke="#000" stroke-width="0.25">0.1</text>
<line x1="38.00" y1="631.30" x2="39.80" y2="631.30" stroke="#333" stroke-width="0.8"/>
<text transform="translate(32.18,610.85) scale(1.142,1)" font-family="Liberation Sans" font-weight="bold" font-style="normal" font-size="7.16" fill="#000" stroke="#000" stroke-width="0.25">1</text>
<line x1="38.00" y1="608.35" x2="39.80" y2="608.35" stroke="#333" stroke-width="0.8"/>
<text transform="translate(27.73,587.90) scale(1.142,1)" font-family="Liberation Sans" font-weight="bold" font-style="normal" font-size="7.16" fill="#000" stroke="#000" stroke-width="0.25">10</text>
<line x1="38.00" y1="585.40" x2="39.80" y2="585.40" stroke="#333" stroke-width="0.8"/>
<text transform="translate(23.18,564.95) scale(1.142,1)" font-family="Liberation Sans" font-weight="bold" font-style="normal" font-size="7.16" fill="#000" stroke="#000" stroke-width="0.25">100</text>
<line x1="38.00" y1="562.45" x2="39.80" y2="562.45" stroke="#333" stroke-width="0.8"/>
<text transform="translate(18.63,542.00) scale(1.142,1)" font-family="Liberation Sans" font-weight="bold" font-style="normal" font-size="7.16" fill="#000" stroke="#000" stroke-width="0.25">1000</text>
<line x1="38.00" y1="539.50" x2="39.80" y2="539.50" stroke="#333" stroke-width="0.8"/>
<line x1="38.60" y1="624.39" x2="39.80" y2="624.39" stroke="#333" stroke-width="0.8"/>
<line x1="38.60" y1="620.35" x2="39.80" y2="620.35" stroke="#333" stroke-width="0.8"/>
<line x1="38.60" y1="617.48" x2="39.80" y2="617.48" stroke="#333" stroke-width="0.8"/>
<line x1="38.60" y1="615.26" x2="39.80" y2="615.26" stroke="#333" stroke-width="0.8"/>
<line x1="38.60" y1="613.44" x2="39.80" y2="613.44" stroke="#333" stroke-width="0.8"/>
<line x1="38.60" y1="611.90" x2="39.80" y2="611.90" stroke="#333" stroke-width="0.8"/>
<line x1="38.60" y1="610.57" x2="39.80" y2="610.57" stroke="#333" stroke-width="0.8"/>
<line x1="38.60" y1="609.40" x2="39.80" y2="609.40" stroke="#333" stroke-width="0.8"/>
<line x1="38.60" y1="601.44" x2="39.80" y2="601.44" stroke="#333" stroke-width="0.8"/>
<line x1="38.60" y1="597.40" x2="39.80" y2="597.40" stroke="#333" stroke-width="0.8"/>
<line x1="38.60" y1="594.53" x2="39.80" y2="594.53" stroke="#333" stroke-width="0.8"/>
<line x1="38.60" y1="592.31" x2="39.80" y2="592.31" stroke="#333" stroke-width="0.8"/>
<line x1="38.60" y1="590.49" x2="39.80" y2="590.49" stroke="#333" stroke-width="0.8"/>
<line x1="38.60" y1="588.95" x2="39.80" y2="588.95" stroke="#333" stroke-width="0.8"/>
<line x1="38.60" y1="587.62" x2="39.80" y2="587.62" stroke="#333" stroke-width="0.8"/>
<line x1="38.60" y1="586.45" x2="39.80" y2="586.45" stroke="#333" stroke-width="0.8"/>
<line x1="38.60" y1="578.49" x2="39.80" y2="578.49" stroke="#333" stroke-width="0.8"/>
<line x1="38.60" y1="574.45" x2="39.80" y2="574.45" stroke="#333" stroke-width="0.8"/>
<line x1="38.60" y1="571.58" x2="39.80" y2="571.58" stroke="#333" stroke-width="0.8"/>
<line x1="38.60" y1="569.36" x2="39.80" y2="569.36" stroke="#333" stroke-width="0.8"/>
<line x1="38.60" y1="567.54" x2="39.80" y2="567.54" stroke="#333" stroke-width="0.8"/>
<line x1="38.60" y1="566.00" x2="39.80" y2="566.00" stroke="#333" stroke-width="0.8"/>
<line x1="38.60" y1="564.67" x2="39.80" y2="564.67" stroke="#333" stroke-width="0.8"/>
<line x1="38.60" y1="563.50" x2="39.80" y2="563.50" stroke="#333" stroke-width="0.8"/>
<line x1="38.60" y1="555.54" x2="39.80" y2="555.54" stroke="#333" stroke-width="0.8"/>
<line x1="38.60" y1="551.50" x2="39.80" y2="551.50" stroke="#333" stroke-width="0.8"/>
<line x1="38.60" y1="548.63" x2="39.80" y2="548.63" stroke="#333" stroke-width="0.8"/>
<line x1="38.60" y1="546.41" x2="39.80" y2="546.41" stroke="#333" stroke-width="0.8"/>
<line x1="38.60" y1="544.59" x2="39.80" y2="544.59" stroke="#333" stroke-width="0.8"/>
<line x1="38.60" y1="543.05" x2="39.80" y2="543.05" stroke="#333" stroke-width="0.8"/>
<line x1="38.60" y1="541.72" x2="39.80" y2="541.72" stroke="#333" stroke-width="0.8"/>
<line x1="38.60" y1="540.55" x2="39.80" y2="540.55" stroke="#333" stroke-width="0.8"/>
<text transform="translate(38.57,642.10) scale(1.001,1)" font-family="Liberation Sans" font-weight="bold" font-style="normal" font-size="8.02" fill="#000" stroke="#000" stroke-width="0.25">0</text>
<line x1="40.80" y1="630.60" x2="40.80" y2="632.60" stroke="#444" stroke-width="0.8"/>
<text transform="translate(51.03,642.10) scale(1.001,1)" font-family="Liberation Sans" font-weight="bold" font-style="normal" font-size="8.02" fill="#000" stroke="#000" stroke-width="0.25">2</text>
<line x1="53.26" y1="630.60" x2="53.26" y2="632.60" stroke="#444" stroke-width="0.8"/>
<text transform="translate(63.49,642.10) scale(1.001,1)" font-family="Liberation Sans" font-weight="bold" font-style="normal" font-size="8.02" fill="#000" stroke="#000" stroke-width="0.25">4</text>
<line x1="65.72" y1="630.60" x2="65.72" y2="632.60" stroke="#444" stroke-width="0.8"/>
<text transform="translate(75.95,642.10) scale(1.001,1)" font-family="Liberation Sans" font-weight="bold" font-style="normal" font-size="8.02" fill="#000" stroke="#000" stroke-width="0.25">6</text>
<line x1="78.18" y1="630.60" x2="78.18" y2="632.60" stroke="#444" stroke-width="0.8"/>
<text transform="translate(88.41,642.10) scale(1.001,1)" font-family="Liberation Sans" font-weight="bold" font-style="normal" font-size="8.02" fill="#000" stroke="#000" stroke-width="0.25">8</text>
<line x1="90.64" y1="630.60" x2="90.64" y2="632.60" stroke="#444" stroke-width="0.8"/>
<text transform="translate(98.63,642.10) scale(1.001,1)" font-family="Liberation Sans" font-weight="bold" font-style="normal" font-size="8.02" fill="#000" stroke="#000" stroke-width="0.25">10</text>
<line x1="103.10" y1="630.60" x2="103.10" y2="632.60" stroke="#444" stroke-width="0.8"/>
<text transform="translate(111.09,642.10) scale(1.001,1)" font-family="Liberation Sans" font-weight="bold" font-style="normal" font-size="8.02" fill="#000" stroke="#000" stroke-width="0.25">12</text>
<line x1="115.56" y1="630.60" x2="115.56" y2="632.60" stroke="#444" stroke-width="0.8"/>
<text transform="translate(123.55,642.10) scale(1.001,1)" font-family="Liberation Sans" font-weight="bold" font-style="normal" font-size="8.02" fill="#000" stroke="#000" stroke-width="0.25">14</text>
<line x1="128.02" y1="630.60" x2="128.02" y2="632.60" stroke="#444" stroke-width="0.8"/>
<text transform="translate(136.01,642.10) scale(1.001,1)" font-family="Liberation Sans" font-weight="bold" font-style="normal" font-size="8.02" fill="#000" stroke="#000" stroke-width="0.25">16</text>
<line x1="140.48" y1="630.60" x2="140.48" y2="632.60" stroke="#444" stroke-width="0.8"/>
<text transform="translate(148.47,642.10) scale(1.001,1)" font-family="Liberation Sans" font-weight="bold" font-style="normal" font-size="8.02" fill="#000" stroke="#000" stroke-width="0.25">18</text>
<line x1="152.94" y1="630.60" x2="152.94" y2="632.60" stroke="#444" stroke-width="0.8"/>
<text transform="translate(160.93,642.10) scale(1.001,1)" font-family="Liberation Sans" font-weight="bold" font-style="normal" font-size="8.02" fill="#000" stroke="#000" stroke-width="0.25">20</text>
<line x1="165.40" y1="630.60" x2="165.40" y2="632.60" stroke="#444" stroke-width="0.8"/>
<polyline points="40.80,608.35 53.26,613.95 65.72,614.87 78.18,557.40 96.87,579.00 115.56,591.92 134.25,602.33 165.40,604.44" fill="none" stroke="#333" stroke-width="1.0" stroke-linejoin="round"/>
<rect x="39.90" y="607.45" width="1.80" height="1.80" fill="#333"/>
<rect x="52.36" y="613.05" width="1.80" height="1.80" fill="#333"/>
<rect x="64.82" y="613.97" width="1.80" height="1.80" fill="#333"/>
<rect x="77.28" y="556.50" width="1.80" height="1.80" fill="#333"/>
<rect x="95.97" y="578.10" width="1.80" height="1.80" fill="#333"/>
<rect x="114.66" y="591.02" width="1.80" height="1.80" fill="#333"/>
<rect x="133.35" y="601.43" width="1.80" height="1.80" fill="#333"/>
<rect x="164.50" y="603.54" width="1.80" height="1.80" fill="#333"/>
<text transform="translate(110.85,557.80) scale(1.023,1)" font-family="Liberation Sans" font-weight="normal" font-style="italic" font-size="11.03" fill="#111" stroke="#111" stroke-width="0.45">EKLF</text>
<line x1="206.60" y1="539.50" x2="339.60" y2="539.50" stroke="#777" stroke-width="1.1"/>
<line x1="339.60" y1="539.50" x2="339.60" y2="631.30" stroke="#777" stroke-width="1.1"/>
<line x1="206.60" y1="631.30" x2="339.60" y2="631.30" stroke="#333" stroke-width="1.0"/>
<line x1="206.60" y1="539.50" x2="206.60" y2="631.30" stroke="#333" stroke-width="1.0"/>
<text transform="translate(188.70,633.80) scale(1.004,1)" font-family="Liberation Sans" font-weight="bold" font-style="normal" font-size="7.16" fill="#000" stroke="#000" stroke-width="0.25">0.01</text>
<line x1="204.80" y1="631.30" x2="206.60" y2="631.30" stroke="#333" stroke-width="0.8"/>
<text transform="translate(192.70,603.20) scale(1.004,1)" font-family="Liberation Sans" font-weight="bold" font-style="normal" font-size="7.16" fill="#000" stroke="#000" stroke-width="0.25">0.1</text>
<line x1="204.80" y1="600.70" x2="206.60" y2="600.70" stroke="#333" stroke-width="0.8"/>
<text transform="translate(198.70,572.60) scale(1.004,1)" font-family="Liberation Sans" font-weight="bold" font-style="normal" font-size="7.16" fill="#000" stroke="#000" stroke-width="0.25">1</text>
<line x1="204.80" y1="570.10" x2="206.60" y2="570.10" stroke="#333" stroke-width="0.8"/>
<text transform="translate(194.79,542.00) scale(1.004,1)" font-family="Liberation Sans" font-weight="bold" font-style="normal" font-size="7.16" fill="#000" stroke="#000" stroke-width="0.25">10</text>
<line x1="204.80" y1="539.50" x2="206.60" y2="539.50" stroke="#333" stroke-width="0.8"/>
<line x1="205.40" y1="622.09" x2="206.60" y2="622.09" stroke="#333" stroke-width="0.8"/>
<line x1="205.40" y1="616.70" x2="206.60" y2="616.70" stroke="#333" stroke-width="0.8"/>
<line x1="205.40" y1="612.88" x2="206.60" y2="612.88" stroke="#333" stroke-width="0.8"/>
<line x1="205.40" y1="609.91" x2="206.60" y2="609.91" stroke="#333" stroke-width="0.8"/>
<line x1="205.40" y1="607.49" x2="206.60" y2="607.49" stroke="#333" stroke-width="0.8"/>
<line x1="205.40" y1="605.44" x2="206.60" y2="605.44" stroke="#333" stroke-width="0.8"/>
<line x1="205.40" y1="603.67" x2="206.60" y2="603.67" stroke="#333" stroke-width="0.8"/>
<line x1="205.40" y1="602.10" x2="206.60" y2="602.10" stroke="#333" stroke-width="0.8"/>
<line x1="205.40" y1="591.49" x2="206.60" y2="591.49" stroke="#333" stroke-width="0.8"/>
<line x1="205.40" y1="586.10" x2="206.60" y2="586.10" stroke="#333" stroke-width="0.8"/>
<line x1="205.40" y1="582.28" x2="206.60" y2="582.28" stroke="#333" stroke-width="0.8"/>
<line x1="205.40" y1="579.31" x2="206.60" y2="579.31" stroke="#333" stroke-width="0.8"/>
<line x1="205.40" y1="576.89" x2="206.60" y2="576.89" stroke="#333" stroke-width="0.8"/>
<line x1="205.40" y1="574.84" x2="206.60" y2="574.84" stroke="#333" stroke-width="0.8"/>
<line x1="205.40" y1="573.07" x2="206.60" y2="573.07" stroke="#333" stroke-width="0.8"/>
<line x1="205.40" y1="571.50" x2="206.60" y2="571.50" stroke="#333" stroke-width="0.8"/>
<line x1="205.40" y1="560.89" x2="206.60" y2="560.89" stroke="#333" stroke-width="0.8"/>
<line x1="205.40" y1="555.50" x2="206.60" y2="555.50" stroke="#333" stroke-width="0.8"/>
<line x1="205.40" y1="551.68" x2="206.60" y2="551.68" stroke="#333" stroke-width="0.8"/>
<line x1="205.40" y1="548.71" x2="206.60" y2="548.71" stroke="#333" stroke-width="0.8"/>
<line x1="205.40" y1="546.29" x2="206.60" y2="546.29" stroke="#333" stroke-width="0.8"/>
<line x1="205.40" y1="544.24" x2="206.60" y2="544.24" stroke="#333" stroke-width="0.8"/>
<line x1="205.40" y1="542.47" x2="206.60" y2="542.47" stroke="#333" stroke-width="0.8"/>
<line x1="205.40" y1="540.90" x2="206.60" y2="540.90" stroke="#333" stroke-width="0.8"/>
<text transform="translate(205.10,643.50) scale(0.746,1)" font-family="Liberation Sans" font-weight="bold" font-style="normal" font-size="9.17" fill="#000" stroke="#000" stroke-width="0.25">0</text>
<line x1="207.00" y1="631.50" x2="207.00" y2="633.50" stroke="#444" stroke-width="0.8"/>
<text transform="translate(217.66,643.50) scale(0.746,1)" font-family="Liberation Sans" font-weight="bold" font-style="normal" font-size="9.17" fill="#000" stroke="#000" stroke-width="0.25">2</text>
<line x1="219.56" y1="631.50" x2="219.56" y2="633.50" stroke="#444" stroke-width="0.8"/>
<text transform="translate(230.22,643.50) scale(0.746,1)" font-family="Liberation Sans" font-weight="bold" font-style="normal" font-size="9.17" fill="#000" stroke="#000" stroke-width="0.25">4</text>
<line x1="232.12" y1="631.50" x2="232.12" y2="633.50" stroke="#444" stroke-width="0.8"/>
<text transform="translate(242.78,643.50) scale(0.746,1)" font-family="Liberation Sans" font-weight="bold" font-style="normal" font-size="9.17" fill="#000" stroke="#000" stroke-width="0.25">6</text>
<line x1="244.68" y1="631.50" x2="244.68" y2="633.50" stroke="#444" stroke-width="0.8"/>
<text transform="translate(255.34,643.50) scale(0.746,1)" font-family="Liberation Sans" font-weight="bold" font-style="normal" font-size="9.17" fill="#000" stroke="#000" stroke-width="0.25">8</text>
<line x1="257.24" y1="631.50" x2="257.24" y2="633.50" stroke="#444" stroke-width="0.8"/>
<text transform="translate(265.99,643.50) scale(0.746,1)" font-family="Liberation Sans" font-weight="bold" font-style="normal" font-size="9.17" fill="#000" stroke="#000" stroke-width="0.25">10</text>
<line x1="269.80" y1="631.50" x2="269.80" y2="633.50" stroke="#444" stroke-width="0.8"/>
<text transform="translate(278.55,643.50) scale(0.746,1)" font-family="Liberation Sans" font-weight="bold" font-style="normal" font-size="9.17" fill="#000" stroke="#000" stroke-width="0.25">12</text>
<line x1="282.36" y1="631.50" x2="282.36" y2="633.50" stroke="#444" stroke-width="0.8"/>
<text transform="translate(291.11,643.50) scale(0.746,1)" font-family="Liberation Sans" font-weight="bold" font-style="normal" font-size="9.17" fill="#000" stroke="#000" stroke-width="0.25">14</text>
<line x1="294.92" y1="631.50" x2="294.92" y2="633.50" stroke="#444" stroke-width="0.8"/>
<text transform="translate(303.67,643.50) scale(0.746,1)" font-family="Liberation Sans" font-weight="bold" font-style="normal" font-size="9.17" fill="#000" stroke="#000" stroke-width="0.25">16</text>
<line x1="307.48" y1="631.50" x2="307.48" y2="633.50" stroke="#444" stroke-width="0.8"/>
<text transform="translate(316.23,643.50) scale(0.746,1)" font-family="Liberation Sans" font-weight="bold" font-style="normal" font-size="9.17" fill="#000" stroke="#000" stroke-width="0.25">18</text>
<line x1="320.04" y1="631.50" x2="320.04" y2="633.50" stroke="#444" stroke-width="0.8"/>
<text transform="translate(328.79,643.50) scale(0.746,1)" font-family="Liberation Sans" font-weight="bold" font-style="normal" font-size="9.17" fill="#000" stroke="#000" stroke-width="0.25">20</text>
<line x1="332.60" y1="631.50" x2="332.60" y2="633.50" stroke="#444" stroke-width="0.8"/>
<line x1="207.00" y1="573.07" x2="207.00" y2="567.68" stroke="#999" stroke-width="0.7"/>
<line x1="205.80" y1="573.07" x2="208.20" y2="573.07" stroke="#999" stroke-width="0.7"/>
<line x1="205.80" y1="567.68" x2="208.20" y2="567.68" stroke="#999" stroke-width="0.7"/>
<line x1="219.56" y1="609.91" x2="219.56" y2="600.70" stroke="#999" stroke-width="0.7"/>
<line x1="218.36" y1="609.91" x2="220.76" y2="609.91" stroke="#999" stroke-width="0.7"/>
<line x1="218.36" y1="600.70" x2="220.76" y2="600.70" stroke="#999" stroke-width="0.7"/>
<line x1="232.12" y1="630.65" x2="232.12" y2="606.42" stroke="#999" stroke-width="0.7"/>
<line x1="230.92" y1="630.65" x2="233.32" y2="630.65" stroke="#999" stroke-width="0.7"/>
<line x1="230.92" y1="606.42" x2="233.32" y2="606.42" stroke="#999" stroke-width="0.7"/>
<line x1="332.60" y1="587.50" x2="332.60" y2="584.05" stroke="#999" stroke-width="0.7"/>
<line x1="331.40" y1="587.50" x2="333.80" y2="587.50" stroke="#999" stroke-width="0.7"/>
<line x1="331.40" y1="584.05" x2="333.80" y2="584.05" stroke="#999" stroke-width="0.7"/>
<polyline points="207.00,570.10 219.56,608.89 232.12,630.40 244.68,541.35 263.52,539.50 282.36,579.31 301.20,579.31 332.60,585.66" fill="none" stroke="#222" stroke-width="1.0" stroke-linejoin="round"/>
<rect x="206.10" y="569.20" width="1.80" height="1.80" fill="#222"/>
<rect x="218.66" y="607.99" width="1.80" height="1.80" fill="#222"/>
<rect x="231.22" y="629.50" width="1.80" height="1.80" fill="#222"/>
<rect x="243.78" y="540.45" width="1.80" height="1.80" fill="#222"/>
<rect x="262.62" y="538.60" width="1.80" height="1.80" fill="#222"/>
<rect x="281.46" y="578.41" width="1.80" height="1.80" fill="#222"/>
<rect x="300.30" y="578.41" width="1.80" height="1.80" fill="#222"/>
<rect x="331.70" y="584.76" width="1.80" height="1.80" fill="#222"/>
<text transform="translate(301.41,559.90) scale(0.960,1)" font-family="Liberation Sans" font-weight="bold" font-style="italic" font-size="11.03" fill="#222" stroke="#222" stroke-width="0.1">PU.1</text>
<text transform="translate(177.76,662.00) scale(1.047,1)" font-family="Liberation Serif" font-weight="bold" font-style="normal" font-size="12.84" fill="#000" stroke="#000" stroke-width="0.3">DAYS hEB DEVELOPMENT</text>
<text transform="translate(355.43,475.20) scale(1.068,1)" font-family="Liberation Sans" font-weight="bold" font-style="normal" font-size="24.36" fill="#000" stroke="#000" stroke-width="0.25">C</text>
<text transform="translate(386.67,487.60) scale(0.901,1)" font-family="Liberation Sans" font-weight="bold" font-style="normal" font-size="15.47" fill="#000" stroke="#000" stroke-width="0.25">Hemato-endothelial</text>
<text transform="translate(387.20,503.00) scale(0.921,1)" font-family="Liberation Sans" font-weight="bold" font-style="normal" font-size="15.04" fill="#000" stroke="#000" stroke-width="0.25">Surface Markers</text>
<line x1="384.30" y1="511.40" x2="516.50" y2="511.40" stroke="#777" stroke-width="1.1"/>
<line x1="516.50" y1="511.40" x2="516.50" y2="633.20" stroke="#777" stroke-width="1.1"/>
<line x1="384.30" y1="633.20" x2="516.50" y2="633.20" stroke="#333" stroke-width="1.0"/>
<line x1="384.30" y1="511.40" x2="384.30" y2="633.20" stroke="#333" stroke-width="1.0"/>
<text transform="translate(375.87,636.20) scale(1.046,1)" font-family="Liberation Sans" font-weight="bold" font-style="normal" font-size="8.60" fill="#000" stroke="#000" stroke-width="0.25">0</text>
<line x1="382.50" y1="633.20" x2="384.30" y2="633.20" stroke="#333" stroke-width="0.8"/>
<text transform="translate(375.86,611.84) scale(1.046,1)" font-family="Liberation Sans" font-weight="bold" font-style="normal" font-size="8.60" fill="#000" stroke="#000" stroke-width="0.25">2</text>
<line x1="382.50" y1="608.84" x2="384.30" y2="608.84" stroke="#333" stroke-width="0.8"/>
<text transform="translate(375.55,587.48) scale(1.046,1)" font-family="Liberation Sans" font-weight="bold" font-style="normal" font-size="8.60" fill="#000" stroke="#000" stroke-width="0.25">4</text>
<line x1="382.50" y1="584.48" x2="384.30" y2="584.48" stroke="#333" stroke-width="0.8"/>
<text transform="translate(375.82,563.12) scale(1.046,1)" font-family="Liberation Sans" font-weight="bold" font-style="normal" font-size="8.60" fill="#000" stroke="#000" stroke-width="0.25">6</text>
<line x1="382.50" y1="560.12" x2="384.30" y2="560.12" stroke="#333" stroke-width="0.8"/>
<text transform="translate(375.78,538.76) scale(1.046,1)" font-family="Liberation Sans" font-weight="bold" font-style="normal" font-size="8.60" fill="#000" stroke="#000" stroke-width="0.25">8</text>
<line x1="382.50" y1="535.76" x2="384.30" y2="535.76" stroke="#333" stroke-width="0.8"/>
<text transform="translate(370.87,514.40) scale(1.046,1)" font-family="Liberation Sans" font-weight="bold" font-style="normal" font-size="8.60" fill="#000" stroke="#000" stroke-width="0.25">10</text>
<line x1="382.50" y1="511.40" x2="384.30" y2="511.40" stroke="#333" stroke-width="0.8"/>
<line x1="383.00" y1="621.02" x2="384.30" y2="621.02" stroke="#333" stroke-width="0.8"/>
<line x1="383.00" y1="596.66" x2="384.30" y2="596.66" stroke="#333" stroke-width="0.8"/>
<line x1="383.00" y1="572.30" x2="384.30" y2="572.30" stroke="#333" stroke-width="0.8"/>
<line x1="383.00" y1="547.94" x2="384.30" y2="547.94" stroke="#333" stroke-width="0.8"/>
<line x1="383.00" y1="523.58" x2="384.30" y2="523.58" stroke="#333" stroke-width="0.8"/>
<text transform="translate(383.90,643.80) scale(1.052,1)" font-family="Liberation Sans" font-weight="bold" font-style="normal" font-size="7.16" fill="#000" stroke="#000" stroke-width="0.25">0</text>
<line x1="386.00" y1="633.20" x2="386.00" y2="635.20" stroke="#444" stroke-width="0.8"/>
<text transform="translate(405.75,643.80) scale(1.052,1)" font-family="Liberation Sans" font-weight="bold" font-style="normal" font-size="7.16" fill="#000" stroke="#000" stroke-width="0.25">5</text>
<line x1="407.85" y1="633.20" x2="407.85" y2="635.20" stroke="#444" stroke-width="0.8"/>
<text transform="translate(425.51,643.80) scale(1.052,1)" font-family="Liberation Sans" font-weight="bold" font-style="normal" font-size="7.16" fill="#000" stroke="#000" stroke-width="0.25">10</text>
<line x1="429.70" y1="633.20" x2="429.70" y2="635.20" stroke="#444" stroke-width="0.8"/>
<text transform="translate(447.36,643.80) scale(1.052,1)" font-family="Liberation Sans" font-weight="bold" font-style="normal" font-size="7.16" fill="#000" stroke="#000" stroke-width="0.25">15</text>
<line x1="451.55" y1="633.20" x2="451.55" y2="635.20" stroke="#444" stroke-width="0.8"/>
<text transform="translate(469.21,643.80) scale(1.052,1)" font-family="Liberation Sans" font-weight="bold" font-style="normal" font-size="7.16" fill="#000" stroke="#000" stroke-width="0.25">20</text>
<line x1="473.40" y1="633.20" x2="473.40" y2="635.20" stroke="#444" stroke-width="0.8"/>
<text transform="translate(491.06,643.80) scale(1.052,1)" font-family="Liberation Sans" font-weight="bold" font-style="normal" font-size="7.16" fill="#000" stroke="#000" stroke-width="0.25">25</text>
<line x1="495.25" y1="633.20" x2="495.25" y2="635.20" stroke="#444" stroke-width="0.8"/>
<text transform="translate(512.91,643.80) scale(1.052,1)" font-family="Liberation Sans" font-weight="bold" font-style="normal" font-size="7.16" fill="#000" stroke="#000" stroke-width="0.25">30</text>
<line x1="517.10" y1="633.20" x2="517.10" y2="635.20" stroke="#444" stroke-width="0.8"/>
<text transform="translate(363.52,624.34) rotate(-90) scale(1.128,1)" font-family="Liberation Sans" font-weight="bold" font-style="normal" font-size="8.58" fill="#000" stroke="#000" stroke-width="0.25">% POSITIVE hEB CELL</text>
<line x1="394.74" y1="621.02" x2="394.74" y2="606.40" stroke="#999" stroke-width="0.8"/>
<line x1="393.54" y1="621.02" x2="395.94" y2="621.02" stroke="#999" stroke-width="0.8"/>
<line x1="393.54" y1="606.40" x2="395.94" y2="606.40" stroke="#999" stroke-width="0.8"/>
<line x1="403.48" y1="630.76" x2="403.48" y2="621.02" stroke="#999" stroke-width="0.8"/>
<line x1="402.28" y1="630.76" x2="404.68" y2="630.76" stroke="#999" stroke-width="0.8"/>
<line x1="402.28" y1="621.02" x2="404.68" y2="621.02" stroke="#999" stroke-width="0.8"/>
<line x1="412.22" y1="623.46" x2="412.22" y2="594.22" stroke="#999" stroke-width="0.8"/>
<line x1="411.02" y1="623.46" x2="413.42" y2="623.46" stroke="#999" stroke-width="0.8"/>
<line x1="411.02" y1="594.22" x2="413.42" y2="594.22" stroke="#999" stroke-width="0.8"/>
<line x1="420.96" y1="594.22" x2="420.96" y2="585.70" stroke="#999" stroke-width="0.8"/>
<line x1="419.76" y1="594.22" x2="422.16" y2="594.22" stroke="#999" stroke-width="0.8"/>
<line x1="419.76" y1="585.70" x2="422.16" y2="585.70" stroke="#999" stroke-width="0.8"/>
<line x1="429.70" y1="589.35" x2="429.70" y2="573.52" stroke="#999" stroke-width="0.8"/>
<line x1="428.50" y1="589.35" x2="430.90" y2="589.35" stroke="#999" stroke-width="0.8"/>
<line x1="428.50" y1="573.52" x2="430.90" y2="573.52" stroke="#999" stroke-width="0.8"/>
<line x1="438.44" y1="590.57" x2="438.44" y2="558.90" stroke="#999" stroke-width="0.8"/>
<line x1="437.24" y1="590.57" x2="439.64" y2="590.57" stroke="#999" stroke-width="0.8"/>
<line x1="437.24" y1="558.90" x2="439.64" y2="558.90" stroke="#999" stroke-width="0.8"/>
<line x1="451.55" y1="561.34" x2="451.55" y2="551.59" stroke="#999" stroke-width="0.8"/>
<line x1="450.35" y1="561.34" x2="452.75" y2="561.34" stroke="#999" stroke-width="0.8"/>
<line x1="450.35" y1="551.59" x2="452.75" y2="551.59" stroke="#999" stroke-width="0.8"/>
<line x1="464.66" y1="563.77" x2="464.66" y2="554.03" stroke="#999" stroke-width="0.8"/>
<line x1="463.46" y1="563.77" x2="465.86" y2="563.77" stroke="#999" stroke-width="0.8"/>
<line x1="463.46" y1="554.03" x2="465.86" y2="554.03" stroke="#999" stroke-width="0.8"/>
<line x1="495.25" y1="584.48" x2="495.25" y2="573.52" stroke="#999" stroke-width="0.8"/>
<line x1="494.05" y1="584.48" x2="496.45" y2="584.48" stroke="#999" stroke-width="0.8"/>
<line x1="494.05" y1="573.52" x2="496.45" y2="573.52" stroke="#999" stroke-width="0.8"/>
<line x1="438.44" y1="624.67" x2="438.44" y2="618.58" stroke="#999" stroke-width="0.8"/>
<line x1="437.24" y1="624.67" x2="439.64" y2="624.67" stroke="#999" stroke-width="0.8"/>
<line x1="437.24" y1="618.58" x2="439.64" y2="618.58" stroke="#999" stroke-width="0.8"/>
<line x1="451.55" y1="611.28" x2="451.55" y2="603.97" stroke="#999" stroke-width="0.8"/>
<line x1="450.35" y1="611.28" x2="452.75" y2="611.28" stroke="#999" stroke-width="0.8"/>
<line x1="450.35" y1="603.97" x2="452.75" y2="603.97" stroke="#999" stroke-width="0.8"/>
<line x1="495.25" y1="617.37" x2="495.25" y2="611.28" stroke="#999" stroke-width="0.8"/>
<line x1="494.05" y1="617.37" x2="496.45" y2="617.37" stroke="#999" stroke-width="0.8"/>
<line x1="494.05" y1="611.28" x2="496.45" y2="611.28" stroke="#999" stroke-width="0.8"/>
<line x1="403.48" y1="633.20" x2="403.48" y2="627.11" stroke="#999" stroke-width="0.8"/>
<line x1="402.28" y1="633.20" x2="404.68" y2="633.20" stroke="#999" stroke-width="0.8"/>
<line x1="402.28" y1="627.11" x2="404.68" y2="627.11" stroke="#999" stroke-width="0.8"/>
<line x1="420.96" y1="633.20" x2="420.96" y2="627.11" stroke="#999" stroke-width="0.8"/>
<line x1="419.76" y1="633.20" x2="422.16" y2="633.20" stroke="#999" stroke-width="0.8"/>
<line x1="419.76" y1="627.11" x2="422.16" y2="627.11" stroke="#999" stroke-width="0.8"/>
<line x1="429.70" y1="633.20" x2="429.70" y2="628.33" stroke="#999" stroke-width="0.8"/>
<line x1="428.50" y1="633.20" x2="430.90" y2="633.20" stroke="#999" stroke-width="0.8"/>
<line x1="428.50" y1="628.33" x2="430.90" y2="628.33" stroke="#999" stroke-width="0.8"/>
<polyline points="386.00,623.70 394.74,614.32 403.48,627.11 412.22,618.95 420.96,588.13 429.70,584.48 438.44,573.52 451.55,572.91 464.66,557.68 495.25,600.92 517.10,579.61" fill="none" stroke="#1a1a1a" stroke-width="1.3" stroke-linejoin="round"/>
<circle cx="386.00" cy="623.70" r="1.90" fill="#1a1a1a"/>
<circle cx="394.74" cy="614.32" r="1.90" fill="#1a1a1a"/>
<circle cx="403.48" cy="627.11" r="1.90" fill="#1a1a1a"/>
<circle cx="412.22" cy="618.95" r="1.90" fill="#1a1a1a"/>
<circle cx="420.96" cy="588.13" r="1.90" fill="#1a1a1a"/>
<circle cx="429.70" cy="584.48" r="1.90" fill="#1a1a1a"/>
<circle cx="438.44" cy="573.52" r="1.90" fill="#1a1a1a"/>
<circle cx="451.55" cy="572.91" r="1.90" fill="#1a1a1a"/>
<circle cx="464.66" cy="557.68" r="1.90" fill="#1a1a1a"/>
<circle cx="495.25" cy="600.92" r="1.90" fill="#1a1a1a"/>
<circle cx="517.10" cy="579.61" r="1.90" fill="#1a1a1a"/>
<polyline points="386.00,633.20 394.74,632.59 403.48,628.33 412.22,618.95 420.96,592.40 429.70,579.61 438.44,584.85 451.55,556.47 464.66,560.85 495.25,579.61 517.10,579.61" fill="none" stroke="#7a7a7a" stroke-width="1.5" stroke-linejoin="round"/>
<rect x="383.80" y="631.00" width="4.40" height="4.40" fill="#6e6e6e"/>
<rect x="392.54" y="630.39" width="4.40" height="4.40" fill="#6e6e6e"/>
<rect x="401.28" y="626.13" width="4.40" height="4.40" fill="#6e6e6e"/>
<rect x="410.02" y="616.75" width="4.40" height="4.40" fill="#6e6e6e"/>
<rect x="418.76" y="590.20" width="4.40" height="4.40" fill="#6e6e6e"/>
<rect x="427.50" y="577.41" width="4.40" height="4.40" fill="#6e6e6e"/>
<rect x="436.24" y="582.65" width="4.40" height="4.40" fill="#6e6e6e"/>
<rect x="449.35" y="554.27" width="4.40" height="4.40" fill="#6e6e6e"/>
<rect x="462.46" y="558.65" width="4.40" height="4.40" fill="#6e6e6e"/>
<rect x="493.05" y="577.41" width="4.40" height="4.40" fill="#6e6e6e"/>
<rect x="514.90" y="577.41" width="4.40" height="4.40" fill="#6e6e6e"/>
<polyline points="386.00,633.20 394.74,633.20 403.48,633.20 412.22,633.20 420.96,632.59 429.70,633.20 438.44,622.24 451.55,607.62 464.66,618.34 495.25,614.93 517.10,602.75" fill="none" stroke="#1a1a1a" stroke-width="1.3" stroke-linejoin="round"/>
<polygon points="386.00,630.92 387.90,634.72 384.10,634.72" fill="#1a1a1a"/>
<polygon points="394.74,630.92 396.64,634.72 392.84,634.72" fill="#1a1a1a"/>
<polygon points="403.48,630.92 405.38,634.72 401.58,634.72" fill="#1a1a1a"/>
<polygon points="412.22,630.92 414.12,634.72 410.32,634.72" fill="#1a1a1a"/>
<polygon points="420.96,630.31 422.86,634.11 419.06,634.11" fill="#1a1a1a"/>
<polygon points="429.70,630.92 431.60,634.72 427.80,634.72" fill="#1a1a1a"/>
<polygon points="438.44,619.96 440.34,623.76 436.54,623.76" fill="#1a1a1a"/>
<polygon points="451.55,605.34 453.45,609.14 449.65,609.14" fill="#1a1a1a"/>
<polygon points="464.66,616.06 466.56,619.86 462.76,619.86" fill="#1a1a1a"/>
<polygon points="495.25,612.65 497.15,616.45 493.35,616.45" fill="#1a1a1a"/>
<polygon points="517.10,600.47 519.00,604.27 515.20,604.27" fill="#1a1a1a"/>
<text transform="translate(482.18,570.00) scale(0.926,1)" font-family="Liberation Sans" font-weight="normal" font-style="normal" font-size="13.18" fill="#707070" stroke="#707070" stroke-width="0.5">CD31</text>
<text transform="translate(450.90,597.00) scale(0.904,1)" font-family="Liberation Sans" font-weight="bold" font-style="normal" font-size="13.61" fill="#1a1a1a" stroke="#1a1a1a" stroke-width="0.25">CD34</text>
<text transform="translate(469.49,629.40) scale(0.950,1)" font-family="Liberation Sans" font-weight="bold" font-style="normal" font-size="13.04" fill="#1a1a1a" stroke="#1a1a1a" stroke-width="0.25">CD45</text>
</g>
</svg></body></html>
